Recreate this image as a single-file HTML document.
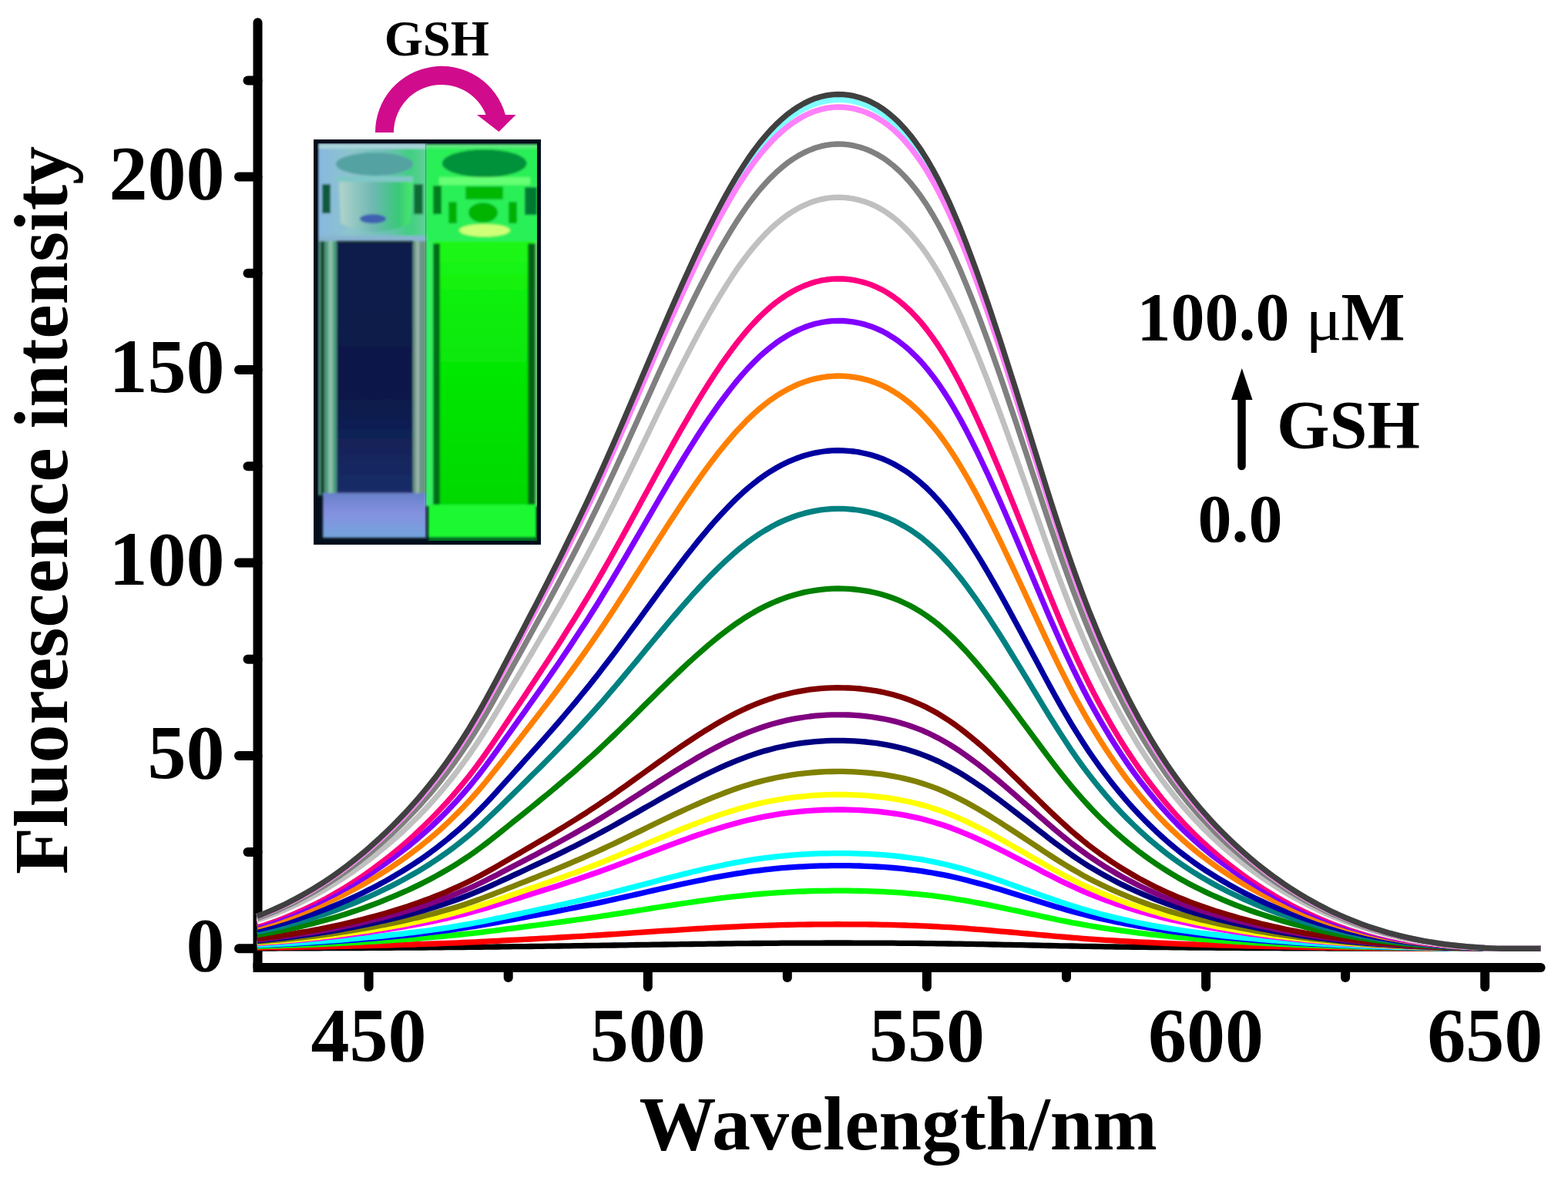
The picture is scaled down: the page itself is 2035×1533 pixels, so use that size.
<!DOCTYPE html><html><head><meta charset="utf-8"><title>Fluorescence spectra</title>
<style>html,body{margin:0;padding:0;background:#fff;}svg{display:block;}text{font-family:"Liberation Serif","Times New Roman",serif;font-weight:bold;fill:#000;}</style></head><body>
<svg width="2035" height="1533" viewBox="0 0 2035 1533">
<rect width="2035" height="1533" fill="#fff"/>
<g stroke="#000" stroke-width="12" fill="none">
<line x1="334.5" y1="29.3" x2="334.5" y2="1256.0" stroke-linecap="round"/>
<line x1="328.5" y1="1256.0" x2="1999.6" y2="1256.0" stroke-linecap="butt"/>
<line x1="1963.4" y1="1256.0" x2="1999.6" y2="1256.0" stroke-linecap="round"/>
<line x1="310.0" y1="1231.3" x2="334.5" y2="1231.3" stroke-linecap="round"/>
<line x1="321.5" y1="1106.1" x2="334.5" y2="1106.1" stroke-linecap="round"/>
<line x1="310.0" y1="980.9" x2="334.5" y2="980.9" stroke-linecap="round"/>
<line x1="321.5" y1="855.7" x2="334.5" y2="855.7" stroke-linecap="round"/>
<line x1="310.0" y1="730.5" x2="334.5" y2="730.5" stroke-linecap="round"/>
<line x1="321.5" y1="605.2" x2="334.5" y2="605.2" stroke-linecap="round"/>
<line x1="310.0" y1="480.0" x2="334.5" y2="480.0" stroke-linecap="round"/>
<line x1="321.5" y1="354.8" x2="334.5" y2="354.8" stroke-linecap="round"/>
<line x1="310.0" y1="229.6" x2="334.5" y2="229.6" stroke-linecap="round"/>
<line x1="321.5" y1="104.4" x2="334.5" y2="104.4" stroke-linecap="round"/>
<line x1="478.6" y1="1256.0" x2="478.6" y2="1281.0" stroke-linecap="round"/>
<line x1="659.7" y1="1256.0" x2="659.7" y2="1269.0" stroke-linecap="round"/>
<line x1="840.8" y1="1256.0" x2="840.8" y2="1281.0" stroke-linecap="round"/>
<line x1="1021.8" y1="1256.0" x2="1021.8" y2="1269.0" stroke-linecap="round"/>
<line x1="1202.9" y1="1256.0" x2="1202.9" y2="1281.0" stroke-linecap="round"/>
<line x1="1384.0" y1="1256.0" x2="1384.0" y2="1269.0" stroke-linecap="round"/>
<line x1="1565.1" y1="1256.0" x2="1565.1" y2="1281.0" stroke-linecap="round"/>
<line x1="1746.1" y1="1256.0" x2="1746.1" y2="1269.0" stroke-linecap="round"/>
<line x1="1927.2" y1="1256.0" x2="1927.2" y2="1281.0" stroke-linecap="round"/>
</g>
<g fill="none" stroke-width="7.3" stroke-linejoin="round">
<path stroke="#000000" d="M333.7,1231.0 L341.0,1231.0 L348.2,1231.0 L355.5,1231.0 L362.7,1230.9 L370.0,1230.9 L377.2,1230.9 L384.4,1230.9 L391.7,1230.8 L398.9,1230.8 L406.2,1230.8 L413.4,1230.8 L420.7,1230.7 L427.9,1230.7 L435.1,1230.7 L442.4,1230.6 L449.6,1230.6 L456.9,1230.6 L464.1,1230.5 L471.4,1230.5 L478.6,1230.4 L485.8,1230.4 L493.1,1230.4 L500.3,1230.3 L507.6,1230.3 L514.8,1230.2 L522.1,1230.2 L529.3,1230.1 L536.5,1230.1 L543.8,1230.0 L551.0,1230.0 L558.3,1229.9 L565.5,1229.8 L572.8,1229.8 L580.0,1229.7 L587.2,1229.6 L594.5,1229.6 L601.7,1229.5 L609.0,1229.4 L616.2,1229.3 L623.5,1229.3 L630.7,1229.2 L637.9,1229.1 L645.2,1229.0 L652.4,1228.9 L659.7,1228.8 L666.9,1228.7 L674.2,1228.6 L681.4,1228.6 L688.6,1228.5 L695.9,1228.4 L703.1,1228.3 L710.4,1228.2 L717.6,1228.1 L724.9,1228.0 L732.1,1227.9 L739.3,1227.8 L746.6,1227.7 L753.8,1227.6 L761.1,1227.5 L768.3,1227.4 L775.6,1227.3 L782.8,1227.2 L790.0,1227.1 L797.3,1227.0 L804.5,1226.9 L811.8,1226.8 L819.0,1226.7 L826.3,1226.5 L833.5,1226.4 L840.8,1226.3 L848.0,1226.2 L855.2,1226.1 L862.5,1226.0 L869.7,1225.9 L877.0,1225.8 L884.2,1225.7 L891.5,1225.6 L898.7,1225.5 L905.9,1225.4 L913.2,1225.3 L920.4,1225.2 L927.7,1225.1 L934.9,1225.0 L942.2,1224.9 L949.4,1224.8 L956.6,1224.7 L963.9,1224.7 L971.1,1224.6 L978.4,1224.5 L985.6,1224.5 L992.9,1224.4 L1000.1,1224.3 L1007.3,1224.3 L1014.6,1224.2 L1021.8,1224.2 L1029.1,1224.2 L1036.3,1224.1 L1043.6,1224.1 L1050.8,1224.1 L1058.0,1224.1 L1065.3,1224.1 L1072.5,1224.0 L1079.8,1224.0 L1087.0,1224.0 L1094.3,1224.0 L1101.5,1224.0 L1108.7,1224.1 L1116.0,1224.1 L1123.2,1224.1 L1130.5,1224.1 L1137.7,1224.1 L1145.0,1224.2 L1152.2,1224.2 L1159.4,1224.2 L1166.7,1224.3 L1173.9,1224.3 L1181.2,1224.4 L1188.4,1224.4 L1195.7,1224.5 L1202.9,1224.6 L1210.1,1224.7 L1217.4,1224.8 L1224.6,1224.9 L1231.9,1225.0 L1239.1,1225.1 L1246.4,1225.2 L1253.6,1225.3 L1260.8,1225.4 L1268.1,1225.6 L1275.3,1225.7 L1282.6,1225.8 L1289.8,1226.0 L1297.1,1226.1 L1304.3,1226.3 L1311.5,1226.4 L1318.8,1226.6 L1326.0,1226.7 L1333.3,1226.9 L1340.5,1227.0 L1347.8,1227.2 L1355.0,1227.3 L1362.2,1227.5 L1369.5,1227.6 L1376.7,1227.8 L1384.0,1227.9 L1391.2,1228.0 L1398.5,1228.2 L1405.7,1228.3 L1412.9,1228.4 L1420.2,1228.5 L1427.4,1228.7 L1434.7,1228.8 L1441.9,1228.9 L1449.2,1229.0 L1456.4,1229.1 L1463.6,1229.2 L1470.9,1229.3 L1478.1,1229.3 L1485.4,1229.4 L1492.6,1229.5 L1499.9,1229.6 L1507.1,1229.7 L1514.3,1229.7 L1521.6,1229.8 L1528.8,1229.9 L1536.1,1229.9 L1543.3,1230.0 L1550.6,1230.1 L1557.8,1230.1 L1565.1,1230.2 L1572.3,1230.2 L1579.5,1230.3 L1586.8,1230.3 L1594.0,1230.4 L1601.3,1230.4 L1608.5,1230.4 L1615.8,1230.5 L1623.0,1230.5 L1630.2,1230.6 L1637.5,1230.6 L1644.7,1230.6 L1652.0,1230.7 L1659.2,1230.7 L1666.5,1230.8 L1673.7,1230.8 L1680.9,1230.8 L1688.2,1230.8 L1695.4,1230.9 L1702.7,1230.9 L1709.9,1230.9 L1717.2,1230.9 L1724.4,1231.0 L1731.6,1231.0 L1738.9,1231.0 L1746.1,1231.0 L1753.4,1231.1 L1760.6,1231.1 L1767.9,1231.1 L1775.1,1231.1 L1782.3,1231.1 L1789.6,1231.1 L1796.8,1231.2 L1804.1,1231.2 L1811.3,1231.2 L1818.6,1231.2 L1825.8,1231.2 L1833.0,1231.2 L1840.3,1231.2 L1847.5,1231.2 L1854.8,1231.2 L1862.0,1231.3 L1869.3,1231.3 L1876.5,1231.3 L1883.7,1231.3 L1891.0,1231.3 L1898.2,1231.3 L1905.5,1231.3 L1912.7,1231.3 L1920.0,1231.3 L1927.2,1231.3 L1934.4,1231.3 L1941.7,1231.3 L1948.9,1231.3 L1956.2,1231.3 L1963.4,1231.3 L1970.7,1231.3 L1977.9,1231.3 L1985.1,1231.3 L1992.4,1231.3 L1999.6,1231.3"/>
<path stroke="#ff0000" d="M333.7,1230.1 L341.0,1230.0 L348.2,1229.9 L355.5,1229.9 L362.7,1229.8 L370.0,1229.7 L377.2,1229.6 L384.4,1229.4 L391.7,1229.3 L398.9,1229.2 L406.2,1229.1 L413.4,1229.0 L420.7,1228.8 L427.9,1228.7 L435.1,1228.6 L442.4,1228.4 L449.6,1228.3 L456.9,1228.1 L464.1,1227.9 L471.4,1227.8 L478.6,1227.6 L485.8,1227.4 L493.1,1227.2 L500.3,1227.0 L507.6,1226.8 L514.8,1226.6 L522.1,1226.4 L529.3,1226.2 L536.5,1226.0 L543.8,1225.7 L551.0,1225.5 L558.3,1225.2 L565.5,1225.0 L572.8,1224.7 L580.0,1224.4 L587.2,1224.1 L594.5,1223.8 L601.7,1223.5 L609.0,1223.2 L616.2,1222.8 L623.5,1222.5 L630.7,1222.1 L637.9,1221.7 L645.2,1221.3 L652.4,1220.9 L659.7,1220.5 L666.9,1220.2 L674.2,1219.8 L681.4,1219.4 L688.6,1219.0 L695.9,1218.6 L703.1,1218.2 L710.4,1217.8 L717.6,1217.4 L724.9,1217.0 L732.1,1216.5 L739.3,1216.1 L746.6,1215.7 L753.8,1215.3 L761.1,1214.8 L768.3,1214.4 L775.6,1214.0 L782.8,1213.5 L790.0,1213.0 L797.3,1212.6 L804.5,1212.1 L811.8,1211.6 L819.0,1211.1 L826.3,1210.7 L833.5,1210.2 L840.8,1209.7 L848.0,1209.2 L855.2,1208.7 L862.5,1208.2 L869.7,1207.8 L877.0,1207.3 L884.2,1206.8 L891.5,1206.4 L898.7,1205.9 L905.9,1205.5 L913.2,1205.1 L920.4,1204.6 L927.7,1204.2 L934.9,1203.8 L942.2,1203.5 L949.4,1203.1 L956.6,1202.8 L963.9,1202.4 L971.1,1202.1 L978.4,1201.8 L985.6,1201.6 L992.9,1201.3 L1000.1,1201.1 L1007.3,1200.9 L1014.6,1200.7 L1021.8,1200.5 L1029.1,1200.3 L1036.3,1200.2 L1043.6,1200.1 L1050.8,1200.0 L1058.0,1199.9 L1065.3,1199.8 L1072.5,1199.8 L1079.8,1199.8 L1087.0,1199.7 L1094.3,1199.8 L1101.5,1199.8 L1108.7,1199.8 L1116.0,1199.9 L1123.2,1199.9 L1130.5,1200.0 L1137.7,1200.1 L1145.0,1200.3 L1152.2,1200.4 L1159.4,1200.6 L1166.7,1200.8 L1173.9,1201.0 L1181.2,1201.3 L1188.4,1201.5 L1195.7,1201.8 L1202.9,1202.1 L1210.1,1202.5 L1217.4,1202.9 L1224.6,1203.3 L1231.9,1203.7 L1239.1,1204.2 L1246.4,1204.7 L1253.6,1205.2 L1260.8,1205.8 L1268.1,1206.3 L1275.3,1206.9 L1282.6,1207.5 L1289.8,1208.1 L1297.1,1208.8 L1304.3,1209.4 L1311.5,1210.0 L1318.8,1210.7 L1326.0,1211.3 L1333.3,1212.0 L1340.5,1212.7 L1347.8,1213.3 L1355.0,1214.0 L1362.2,1214.6 L1369.5,1215.3 L1376.7,1215.9 L1384.0,1216.5 L1391.2,1217.1 L1398.5,1217.7 L1405.7,1218.3 L1412.9,1218.8 L1420.2,1219.3 L1427.4,1219.8 L1434.7,1220.3 L1441.9,1220.7 L1449.2,1221.2 L1456.4,1221.6 L1463.6,1222.0 L1470.9,1222.4 L1478.1,1222.8 L1485.4,1223.2 L1492.6,1223.5 L1499.9,1223.9 L1507.1,1224.2 L1514.3,1224.5 L1521.6,1224.8 L1528.8,1225.1 L1536.1,1225.4 L1543.3,1225.6 L1550.6,1225.9 L1557.8,1226.1 L1565.1,1226.4 L1572.3,1226.6 L1579.5,1226.8 L1586.8,1227.0 L1594.0,1227.2 L1601.3,1227.4 L1608.5,1227.6 L1615.8,1227.8 L1623.0,1228.0 L1630.2,1228.1 L1637.5,1228.3 L1644.7,1228.5 L1652.0,1228.6 L1659.2,1228.8 L1666.5,1228.9 L1673.7,1229.0 L1680.9,1229.2 L1688.2,1229.3 L1695.4,1229.4 L1702.7,1229.6 L1709.9,1229.7 L1717.2,1229.8 L1724.4,1229.9 L1731.6,1230.0 L1738.9,1230.1 L1746.1,1230.2 L1753.4,1230.2 L1760.6,1230.3 L1767.9,1230.4 L1775.1,1230.5 L1782.3,1230.5 L1789.6,1230.6 L1796.8,1230.7 L1804.1,1230.7 L1811.3,1230.8 L1818.6,1230.8 L1825.8,1230.9 L1833.0,1230.9 L1840.3,1231.0 L1847.5,1231.0 L1854.8,1231.1 L1862.0,1231.1 L1869.3,1231.1 L1876.5,1231.1 L1883.7,1231.2 L1891.0,1231.2 L1898.2,1231.2 L1905.5,1231.2 L1912.7,1231.2 L1920.0,1231.3 L1927.2,1231.3 L1934.4,1231.3 L1941.7,1231.3 L1948.9,1231.3 L1956.2,1231.3 L1963.4,1231.3 L1970.7,1231.3 L1977.9,1231.3 L1985.1,1231.3 L1992.4,1231.3 L1999.6,1231.3"/>
<path stroke="#00ff00" d="M333.7,1228.5 L341.0,1228.3 L348.2,1228.1 L355.5,1227.9 L362.7,1227.6 L370.0,1227.4 L377.2,1227.1 L384.4,1226.9 L391.7,1226.6 L398.9,1226.3 L406.2,1226.1 L413.4,1225.8 L420.7,1225.4 L427.9,1225.1 L435.1,1224.8 L442.4,1224.4 L449.6,1224.0 L456.9,1223.7 L464.1,1223.3 L471.4,1222.9 L478.6,1222.4 L485.8,1222.0 L493.1,1221.6 L500.3,1221.1 L507.6,1220.6 L514.8,1220.1 L522.1,1219.6 L529.3,1219.1 L536.5,1218.6 L543.8,1218.0 L551.0,1217.4 L558.3,1216.8 L565.5,1216.2 L572.8,1215.5 L580.0,1214.9 L587.2,1214.2 L594.5,1213.5 L601.7,1212.7 L609.0,1211.9 L616.2,1211.1 L623.5,1210.3 L630.7,1209.4 L637.9,1208.5 L645.2,1207.6 L652.4,1206.6 L659.7,1205.7 L666.9,1204.8 L674.2,1203.8 L681.4,1202.9 L688.6,1201.9 L695.9,1201.0 L703.1,1200.1 L710.4,1199.1 L717.6,1198.1 L724.9,1197.2 L732.1,1196.2 L739.3,1195.2 L746.6,1194.2 L753.8,1193.2 L761.1,1192.1 L768.3,1191.1 L775.6,1190.0 L782.8,1188.9 L790.0,1187.8 L797.3,1186.7 L804.5,1185.6 L811.8,1184.4 L819.0,1183.3 L826.3,1182.2 L833.5,1181.0 L840.8,1179.8 L848.0,1178.7 L855.2,1177.5 L862.5,1176.4 L869.7,1175.3 L877.0,1174.2 L884.2,1173.0 L891.5,1172.0 L898.7,1170.9 L905.9,1169.8 L913.2,1168.8 L920.4,1167.8 L927.7,1166.9 L934.9,1165.9 L942.2,1165.0 L949.4,1164.2 L956.6,1163.3 L963.9,1162.6 L971.1,1161.8 L978.4,1161.1 L985.6,1160.5 L992.9,1159.9 L1000.1,1159.3 L1007.3,1158.8 L1014.6,1158.4 L1021.8,1157.9 L1029.1,1157.6 L1036.3,1157.2 L1043.6,1157.0 L1050.8,1156.7 L1058.0,1156.5 L1065.3,1156.4 L1072.5,1156.3 L1079.8,1156.2 L1087.0,1156.2 L1094.3,1156.2 L1101.5,1156.2 L1108.7,1156.3 L1116.0,1156.5 L1123.2,1156.6 L1130.5,1156.8 L1137.7,1157.1 L1145.0,1157.4 L1152.2,1157.8 L1159.4,1158.2 L1166.7,1158.7 L1173.9,1159.2 L1181.2,1159.8 L1188.4,1160.4 L1195.7,1161.1 L1202.9,1161.9 L1210.1,1162.7 L1217.4,1163.6 L1224.6,1164.6 L1231.9,1165.7 L1239.1,1166.8 L1246.4,1168.0 L1253.6,1169.2 L1260.8,1170.5 L1268.1,1171.8 L1275.3,1173.2 L1282.6,1174.7 L1289.8,1176.1 L1297.1,1177.6 L1304.3,1179.1 L1311.5,1180.7 L1318.8,1182.2 L1326.0,1183.8 L1333.3,1185.4 L1340.5,1186.9 L1347.8,1188.5 L1355.0,1190.1 L1362.2,1191.6 L1369.5,1193.2 L1376.7,1194.7 L1384.0,1196.1 L1391.2,1197.6 L1398.5,1198.9 L1405.7,1200.2 L1412.9,1201.5 L1420.2,1202.7 L1427.4,1203.9 L1434.7,1205.1 L1441.9,1206.2 L1449.2,1207.2 L1456.4,1208.2 L1463.6,1209.2 L1470.9,1210.1 L1478.1,1211.1 L1485.4,1211.9 L1492.6,1212.8 L1499.9,1213.6 L1507.1,1214.3 L1514.3,1215.1 L1521.6,1215.8 L1528.8,1216.5 L1536.1,1217.1 L1543.3,1217.8 L1550.6,1218.4 L1557.8,1219.0 L1565.1,1219.5 L1572.3,1220.1 L1579.5,1220.6 L1586.8,1221.1 L1594.0,1221.6 L1601.3,1222.1 L1608.5,1222.5 L1615.8,1222.9 L1623.0,1223.4 L1630.2,1223.8 L1637.5,1224.2 L1644.7,1224.6 L1652.0,1224.9 L1659.2,1225.3 L1666.5,1225.6 L1673.7,1225.9 L1680.9,1226.3 L1688.2,1226.6 L1695.4,1226.9 L1702.7,1227.1 L1709.9,1227.4 L1717.2,1227.7 L1724.4,1227.9 L1731.6,1228.1 L1738.9,1228.4 L1746.1,1228.6 L1753.4,1228.8 L1760.6,1229.0 L1767.9,1229.2 L1775.1,1229.3 L1782.3,1229.5 L1789.6,1229.7 L1796.8,1229.8 L1804.1,1229.9 L1811.3,1230.1 L1818.6,1230.2 L1825.8,1230.3 L1833.0,1230.4 L1840.3,1230.5 L1847.5,1230.6 L1854.8,1230.7 L1862.0,1230.8 L1869.3,1230.9 L1876.5,1230.9 L1883.7,1231.0 L1891.0,1231.0 L1898.2,1231.1 L1905.5,1231.1 L1912.7,1231.2 L1920.0,1231.2 L1927.2,1231.2 L1934.4,1231.3 L1941.7,1231.3 L1948.9,1231.3 L1956.2,1231.3 L1963.4,1231.3 L1970.7,1231.3 L1977.9,1231.3 L1985.1,1231.3 L1992.4,1231.3 L1999.6,1231.3"/>
<path stroke="#0000ff" d="M333.7,1227.2 L341.0,1226.9 L348.2,1226.7 L355.5,1226.4 L362.7,1226.0 L370.0,1225.7 L377.2,1225.4 L384.4,1225.0 L391.7,1224.6 L398.9,1224.2 L406.2,1223.8 L413.4,1223.3 L420.7,1222.9 L427.9,1222.4 L435.1,1221.9 L442.4,1221.4 L449.6,1220.9 L456.9,1220.4 L464.1,1219.8 L471.4,1219.2 L478.6,1218.6 L485.8,1218.0 L493.1,1217.4 L500.3,1216.7 L507.6,1216.0 L514.8,1215.3 L522.1,1214.6 L529.3,1213.8 L536.5,1213.0 L543.8,1212.2 L551.0,1211.4 L558.3,1210.5 L565.5,1209.7 L572.8,1208.7 L580.0,1207.8 L587.2,1206.8 L594.5,1205.7 L601.7,1204.6 L609.0,1203.5 L616.2,1202.4 L623.5,1201.1 L630.7,1199.9 L637.9,1198.6 L645.2,1197.3 L652.4,1195.9 L659.7,1194.6 L666.9,1193.3 L674.2,1191.9 L681.4,1190.6 L688.6,1189.2 L695.9,1187.9 L703.1,1186.5 L710.4,1185.1 L717.6,1183.8 L724.9,1182.4 L732.1,1181.0 L739.3,1179.5 L746.6,1178.1 L753.8,1176.6 L761.1,1175.1 L768.3,1173.6 L775.6,1172.1 L782.8,1170.6 L790.0,1169.0 L797.3,1167.4 L804.5,1165.8 L811.8,1164.1 L819.0,1162.5 L826.3,1160.9 L833.5,1159.2 L840.8,1157.5 L848.0,1155.9 L855.2,1154.2 L862.5,1152.6 L869.7,1151.0 L877.0,1149.4 L884.2,1147.8 L891.5,1146.2 L898.7,1144.7 L905.9,1143.2 L913.2,1141.8 L920.4,1140.3 L927.7,1138.9 L934.9,1137.6 L942.2,1136.3 L949.4,1135.1 L956.6,1133.9 L963.9,1132.8 L971.1,1131.7 L978.4,1130.7 L985.6,1129.8 L992.9,1128.9 L1000.1,1128.1 L1007.3,1127.4 L1014.6,1126.7 L1021.8,1126.2 L1029.1,1125.6 L1036.3,1125.2 L1043.6,1124.8 L1050.8,1124.4 L1058.0,1124.1 L1065.3,1123.9 L1072.5,1123.8 L1079.8,1123.7 L1087.0,1123.6 L1094.3,1123.6 L1101.5,1123.7 L1108.7,1123.8 L1116.0,1124.0 L1123.2,1124.3 L1130.5,1124.6 L1137.7,1125.0 L1145.0,1125.4 L1152.2,1125.9 L1159.4,1126.5 L1166.7,1127.2 L1173.9,1127.9 L1181.2,1128.8 L1188.4,1129.7 L1195.7,1130.7 L1202.9,1131.8 L1210.1,1133.0 L1217.4,1134.3 L1224.6,1135.7 L1231.9,1137.2 L1239.1,1138.8 L1246.4,1140.5 L1253.6,1142.3 L1260.8,1144.2 L1268.1,1146.1 L1275.3,1148.1 L1282.6,1150.1 L1289.8,1152.2 L1297.1,1154.3 L1304.3,1156.5 L1311.5,1158.7 L1318.8,1161.0 L1326.0,1163.2 L1333.3,1165.5 L1340.5,1167.7 L1347.8,1170.0 L1355.0,1172.2 L1362.2,1174.5 L1369.5,1176.7 L1376.7,1178.8 L1384.0,1180.9 L1391.2,1182.9 L1398.5,1184.9 L1405.7,1186.8 L1412.9,1188.6 L1420.2,1190.4 L1427.4,1192.1 L1434.7,1193.7 L1441.9,1195.3 L1449.2,1196.8 L1456.4,1198.2 L1463.6,1199.6 L1470.9,1201.0 L1478.1,1202.3 L1485.4,1203.5 L1492.6,1204.7 L1499.9,1205.9 L1507.1,1207.0 L1514.3,1208.1 L1521.6,1209.1 L1528.8,1210.1 L1536.1,1211.0 L1543.3,1211.9 L1550.6,1212.8 L1557.8,1213.6 L1565.1,1214.4 L1572.3,1215.2 L1579.5,1216.0 L1586.8,1216.7 L1594.0,1217.4 L1601.3,1218.0 L1608.5,1218.7 L1615.8,1219.3 L1623.0,1219.9 L1630.2,1220.5 L1637.5,1221.1 L1644.7,1221.6 L1652.0,1222.2 L1659.2,1222.7 L1666.5,1223.2 L1673.7,1223.6 L1680.9,1224.1 L1688.2,1224.5 L1695.4,1224.9 L1702.7,1225.3 L1709.9,1225.7 L1717.2,1226.1 L1724.4,1226.4 L1731.6,1226.8 L1738.9,1227.1 L1746.1,1227.4 L1753.4,1227.7 L1760.6,1228.0 L1767.9,1228.2 L1775.1,1228.5 L1782.3,1228.7 L1789.6,1229.0 L1796.8,1229.2 L1804.1,1229.4 L1811.3,1229.6 L1818.6,1229.7 L1825.8,1229.9 L1833.0,1230.0 L1840.3,1230.2 L1847.5,1230.3 L1854.8,1230.4 L1862.0,1230.6 L1869.3,1230.7 L1876.5,1230.8 L1883.7,1230.9 L1891.0,1230.9 L1898.2,1231.0 L1905.5,1231.1 L1912.7,1231.1 L1920.0,1231.2 L1927.2,1231.2 L1934.4,1231.3 L1941.7,1231.3 L1948.9,1231.3 L1956.2,1231.3 L1963.4,1231.3 L1970.7,1231.3 L1977.9,1231.3 L1985.1,1231.3 L1992.4,1231.3 L1999.6,1231.3"/>
<path stroke="#00ffff" d="M333.7,1226.6 L341.0,1226.3 L348.2,1226.0 L355.5,1225.6 L362.7,1225.3 L370.0,1224.9 L377.2,1224.5 L384.4,1224.0 L391.7,1223.6 L398.9,1223.1 L406.2,1222.7 L413.4,1222.2 L420.7,1221.6 L427.9,1221.1 L435.1,1220.5 L442.4,1220.0 L449.6,1219.4 L456.9,1218.7 L464.1,1218.1 L471.4,1217.4 L478.6,1216.7 L485.8,1216.0 L493.1,1215.3 L500.3,1214.5 L507.6,1213.7 L514.8,1212.9 L522.1,1212.1 L529.3,1211.2 L536.5,1210.3 L543.8,1209.4 L551.0,1208.5 L558.3,1207.5 L565.5,1206.4 L572.8,1205.4 L580.0,1204.3 L587.2,1203.1 L594.5,1201.9 L601.7,1200.7 L609.0,1199.4 L616.2,1198.0 L623.5,1196.7 L630.7,1195.2 L637.9,1193.7 L645.2,1192.2 L652.4,1190.7 L659.7,1189.1 L666.9,1187.6 L674.2,1186.1 L681.4,1184.5 L688.6,1183.0 L695.9,1181.4 L703.1,1179.8 L710.4,1178.3 L717.6,1176.7 L724.9,1175.1 L732.1,1173.5 L739.3,1171.8 L746.6,1170.2 L753.8,1168.5 L761.1,1166.8 L768.3,1165.1 L775.6,1163.3 L782.8,1161.5 L790.0,1159.7 L797.3,1157.9 L804.5,1156.0 L811.8,1154.1 L819.0,1152.3 L826.3,1150.4 L833.5,1148.5 L840.8,1146.6 L848.0,1144.7 L855.2,1142.8 L862.5,1140.9 L869.7,1139.0 L877.0,1137.2 L884.2,1135.4 L891.5,1133.6 L898.7,1131.8 L905.9,1130.1 L913.2,1128.4 L920.4,1126.8 L927.7,1125.2 L934.9,1123.7 L942.2,1122.2 L949.4,1120.7 L956.6,1119.4 L963.9,1118.1 L971.1,1116.9 L978.4,1115.7 L985.6,1114.7 L992.9,1113.7 L1000.1,1112.8 L1007.3,1111.9 L1014.6,1111.2 L1021.8,1110.5 L1029.1,1109.9 L1036.3,1109.4 L1043.6,1108.9 L1050.8,1108.5 L1058.0,1108.2 L1065.3,1107.9 L1072.5,1107.8 L1079.8,1107.6 L1087.0,1107.6 L1094.3,1107.6 L1101.5,1107.7 L1108.7,1107.8 L1116.0,1108.1 L1123.2,1108.3 L1130.5,1108.7 L1137.7,1109.1 L1145.0,1109.6 L1152.2,1110.2 L1159.4,1110.9 L1166.7,1111.7 L1173.9,1112.5 L1181.2,1113.5 L1188.4,1114.6 L1195.7,1115.7 L1202.9,1117.0 L1210.1,1118.4 L1217.4,1119.9 L1224.6,1121.5 L1231.9,1123.2 L1239.1,1125.1 L1246.4,1127.0 L1253.6,1129.1 L1260.8,1131.2 L1268.1,1133.4 L1275.3,1135.7 L1282.6,1138.0 L1289.8,1140.4 L1297.1,1142.9 L1304.3,1145.4 L1311.5,1147.9 L1318.8,1150.5 L1326.0,1153.1 L1333.3,1155.7 L1340.5,1158.3 L1347.8,1160.9 L1355.0,1163.4 L1362.2,1166.0 L1369.5,1168.5 L1376.7,1171.0 L1384.0,1173.4 L1391.2,1175.7 L1398.5,1178.0 L1405.7,1180.2 L1412.9,1182.3 L1420.2,1184.3 L1427.4,1186.2 L1434.7,1188.1 L1441.9,1189.9 L1449.2,1191.6 L1456.4,1193.3 L1463.6,1194.9 L1470.9,1196.5 L1478.1,1198.0 L1485.4,1199.4 L1492.6,1200.8 L1499.9,1202.1 L1507.1,1203.4 L1514.3,1204.6 L1521.6,1205.8 L1528.8,1206.9 L1536.1,1208.0 L1543.3,1209.0 L1550.6,1210.0 L1557.8,1211.0 L1565.1,1211.9 L1572.3,1212.8 L1579.5,1213.7 L1586.8,1214.5 L1594.0,1215.3 L1601.3,1216.1 L1608.5,1216.8 L1615.8,1217.5 L1623.0,1218.2 L1630.2,1218.9 L1637.5,1219.6 L1644.7,1220.2 L1652.0,1220.8 L1659.2,1221.4 L1666.5,1221.9 L1673.7,1222.5 L1680.9,1223.0 L1688.2,1223.5 L1695.4,1224.0 L1702.7,1224.4 L1709.9,1224.9 L1717.2,1225.3 L1724.4,1225.7 L1731.6,1226.1 L1738.9,1226.5 L1746.1,1226.8 L1753.4,1227.2 L1760.6,1227.5 L1767.9,1227.8 L1775.1,1228.1 L1782.3,1228.3 L1789.6,1228.6 L1796.8,1228.8 L1804.1,1229.1 L1811.3,1229.3 L1818.6,1229.5 L1825.8,1229.7 L1833.0,1229.9 L1840.3,1230.0 L1847.5,1230.2 L1854.8,1230.3 L1862.0,1230.5 L1869.3,1230.6 L1876.5,1230.7 L1883.7,1230.8 L1891.0,1230.9 L1898.2,1231.0 L1905.5,1231.0 L1912.7,1231.1 L1920.0,1231.2 L1927.2,1231.2 L1934.4,1231.2 L1941.7,1231.3 L1948.9,1231.3 L1956.2,1231.3 L1963.4,1231.3 L1970.7,1231.3 L1977.9,1231.3 L1985.1,1231.3 L1992.4,1231.3 L1999.6,1231.3"/>
<path stroke="#ff00ff" d="M333.7,1224.5 L341.0,1224.0 L348.2,1223.5 L355.5,1223.0 L362.7,1222.5 L370.0,1221.9 L377.2,1221.3 L384.4,1220.7 L391.7,1220.1 L398.9,1219.4 L406.2,1218.7 L413.4,1218.0 L420.7,1217.2 L427.9,1216.4 L435.1,1215.6 L442.4,1214.8 L449.6,1213.9 L456.9,1213.0 L464.1,1212.0 L471.4,1211.1 L478.6,1210.1 L485.8,1209.0 L493.1,1207.9 L500.3,1206.8 L507.6,1205.7 L514.8,1204.5 L522.1,1203.3 L529.3,1202.0 L536.5,1200.7 L543.8,1199.4 L551.0,1198.0 L558.3,1196.6 L565.5,1195.1 L572.8,1193.5 L580.0,1191.9 L587.2,1190.2 L594.5,1188.5 L601.7,1186.7 L609.0,1184.8 L616.2,1182.8 L623.5,1180.8 L630.7,1178.7 L637.9,1176.5 L645.2,1174.3 L652.4,1172.1 L659.7,1169.8 L666.9,1167.6 L674.2,1165.4 L681.4,1163.1 L688.6,1160.8 L695.9,1158.6 L703.1,1156.3 L710.4,1154.0 L717.6,1151.7 L724.9,1149.4 L732.1,1147.0 L739.3,1144.6 L746.6,1142.2 L753.8,1139.8 L761.1,1137.3 L768.3,1134.8 L775.6,1132.2 L782.8,1129.6 L790.0,1127.0 L797.3,1124.3 L804.5,1121.6 L811.8,1118.9 L819.0,1116.1 L826.3,1113.3 L833.5,1110.6 L840.8,1107.8 L848.0,1105.0 L855.2,1102.3 L862.5,1099.5 L869.7,1096.8 L877.0,1094.1 L884.2,1091.5 L891.5,1088.9 L898.7,1086.3 L905.9,1083.8 L913.2,1081.4 L920.4,1079.0 L927.7,1076.6 L934.9,1074.4 L942.2,1072.2 L949.4,1070.2 L956.6,1068.2 L963.9,1066.3 L971.1,1064.5 L978.4,1062.9 L985.6,1061.3 L992.9,1059.9 L1000.1,1058.6 L1007.3,1057.3 L1014.6,1056.2 L1021.8,1055.2 L1029.1,1054.4 L1036.3,1053.6 L1043.6,1052.9 L1050.8,1052.3 L1058.0,1051.9 L1065.3,1051.5 L1072.5,1051.2 L1079.8,1051.1 L1087.0,1051.0 L1094.3,1051.0 L1101.5,1051.1 L1108.7,1051.4 L1116.0,1051.7 L1123.2,1052.1 L1130.5,1052.6 L1137.7,1053.2 L1145.0,1054.0 L1152.2,1054.8 L1159.4,1055.8 L1166.7,1056.9 L1173.9,1058.2 L1181.2,1059.6 L1188.4,1061.1 L1195.7,1062.8 L1202.9,1064.7 L1210.1,1066.7 L1217.4,1068.9 L1224.6,1071.2 L1231.9,1073.8 L1239.1,1076.5 L1246.4,1079.3 L1253.6,1082.3 L1260.8,1085.4 L1268.1,1088.6 L1275.3,1091.9 L1282.6,1095.4 L1289.8,1098.9 L1297.1,1102.4 L1304.3,1106.1 L1311.5,1109.8 L1318.8,1113.5 L1326.0,1117.3 L1333.3,1121.1 L1340.5,1124.8 L1347.8,1128.6 L1355.0,1132.4 L1362.2,1136.1 L1369.5,1139.8 L1376.7,1143.4 L1384.0,1146.9 L1391.2,1150.3 L1398.5,1153.6 L1405.7,1156.8 L1412.9,1159.8 L1420.2,1162.8 L1427.4,1165.6 L1434.7,1168.3 L1441.9,1170.9 L1449.2,1173.5 L1456.4,1175.9 L1463.6,1178.3 L1470.9,1180.5 L1478.1,1182.7 L1485.4,1184.8 L1492.6,1186.8 L1499.9,1188.7 L1507.1,1190.6 L1514.3,1192.4 L1521.6,1194.1 L1528.8,1195.7 L1536.1,1197.3 L1543.3,1198.8 L1550.6,1200.3 L1557.8,1201.7 L1565.1,1203.1 L1572.3,1204.4 L1579.5,1205.6 L1586.8,1206.8 L1594.0,1208.0 L1601.3,1209.1 L1608.5,1210.2 L1615.8,1211.2 L1623.0,1212.3 L1630.2,1213.2 L1637.5,1214.2 L1644.7,1215.1 L1652.0,1216.0 L1659.2,1216.8 L1666.5,1217.7 L1673.7,1218.4 L1680.9,1219.2 L1688.2,1219.9 L1695.4,1220.6 L1702.7,1221.3 L1709.9,1221.9 L1717.2,1222.6 L1724.4,1223.2 L1731.6,1223.7 L1738.9,1224.3 L1746.1,1224.8 L1753.4,1225.3 L1760.6,1225.7 L1767.9,1226.2 L1775.1,1226.6 L1782.3,1227.0 L1789.6,1227.4 L1796.8,1227.7 L1804.1,1228.1 L1811.3,1228.4 L1818.6,1228.7 L1825.8,1228.9 L1833.0,1229.2 L1840.3,1229.4 L1847.5,1229.7 L1854.8,1229.9 L1862.0,1230.1 L1869.3,1230.2 L1876.5,1230.4 L1883.7,1230.6 L1891.0,1230.7 L1898.2,1230.8 L1905.5,1230.9 L1912.7,1231.0 L1920.0,1231.1 L1927.2,1231.2 L1934.4,1231.2 L1941.7,1231.3 L1948.9,1231.3 L1956.2,1231.3 L1963.4,1231.3 L1970.7,1231.3 L1977.9,1231.3 L1985.1,1231.3 L1992.4,1231.3 L1999.6,1231.3"/>
<path stroke="#ffff00" d="M333.7,1223.7 L341.0,1223.2 L348.2,1222.7 L355.5,1222.1 L362.7,1221.5 L370.0,1220.9 L377.2,1220.3 L384.4,1219.6 L391.7,1218.9 L398.9,1218.1 L406.2,1217.3 L413.4,1216.5 L420.7,1215.7 L427.9,1214.8 L435.1,1213.9 L442.4,1213.0 L449.6,1212.0 L456.9,1211.0 L464.1,1210.0 L471.4,1208.9 L478.6,1207.8 L485.8,1206.6 L493.1,1205.4 L500.3,1204.2 L507.6,1202.9 L514.8,1201.6 L522.1,1200.3 L529.3,1198.9 L536.5,1197.4 L543.8,1195.9 L551.0,1194.4 L558.3,1192.8 L565.5,1191.1 L572.8,1189.4 L580.0,1187.6 L587.2,1185.8 L594.5,1183.8 L601.7,1181.8 L609.0,1179.7 L616.2,1177.6 L623.5,1175.3 L630.7,1173.0 L637.9,1170.6 L645.2,1168.2 L652.4,1165.7 L659.7,1163.2 L666.9,1160.7 L674.2,1158.2 L681.4,1155.7 L688.6,1153.2 L695.9,1150.7 L703.1,1148.2 L710.4,1145.6 L717.6,1143.1 L724.9,1140.5 L732.1,1137.9 L739.3,1135.2 L746.6,1132.6 L753.8,1129.8 L761.1,1127.1 L768.3,1124.3 L775.6,1121.5 L782.8,1118.6 L790.0,1115.7 L797.3,1112.7 L804.5,1109.7 L811.8,1106.7 L819.0,1103.6 L826.3,1100.6 L833.5,1097.5 L840.8,1094.4 L848.0,1091.4 L855.2,1088.3 L862.5,1085.3 L869.7,1082.3 L877.0,1079.3 L884.2,1076.4 L891.5,1073.5 L898.7,1070.6 L905.9,1067.8 L913.2,1065.1 L920.4,1062.5 L927.7,1059.9 L934.9,1057.4 L942.2,1055.0 L949.4,1052.7 L956.6,1050.5 L963.9,1048.4 L971.1,1046.5 L978.4,1044.6 L985.6,1042.9 L992.9,1041.3 L1000.1,1039.8 L1007.3,1038.5 L1014.6,1037.3 L1021.8,1036.2 L1029.1,1035.2 L1036.3,1034.3 L1043.6,1033.6 L1050.8,1032.9 L1058.0,1032.4 L1065.3,1032.0 L1072.5,1031.7 L1079.8,1031.5 L1087.0,1031.5 L1094.3,1031.5 L1101.5,1031.6 L1108.7,1031.9 L1116.0,1032.2 L1123.2,1032.7 L1130.5,1033.3 L1137.7,1034.0 L1145.0,1034.8 L1152.2,1035.7 L1159.4,1036.8 L1166.7,1038.1 L1173.9,1039.5 L1181.2,1041.0 L1188.4,1042.7 L1195.7,1044.6 L1202.9,1046.6 L1210.1,1048.9 L1217.4,1051.3 L1224.6,1053.9 L1231.9,1056.7 L1239.1,1059.7 L1246.4,1062.8 L1253.6,1066.1 L1260.8,1069.6 L1268.1,1073.2 L1275.3,1076.8 L1282.6,1080.6 L1289.8,1084.5 L1297.1,1088.5 L1304.3,1092.5 L1311.5,1096.6 L1318.8,1100.8 L1326.0,1104.9 L1333.3,1109.1 L1340.5,1113.3 L1347.8,1117.5 L1355.0,1121.7 L1362.2,1125.8 L1369.5,1129.9 L1376.7,1133.9 L1384.0,1137.8 L1391.2,1141.5 L1398.5,1145.2 L1405.7,1148.7 L1412.9,1152.1 L1420.2,1155.3 L1427.4,1158.5 L1434.7,1161.5 L1441.9,1164.4 L1449.2,1167.2 L1456.4,1169.9 L1463.6,1172.5 L1470.9,1175.0 L1478.1,1177.4 L1485.4,1179.8 L1492.6,1182.0 L1499.9,1184.1 L1507.1,1186.2 L1514.3,1188.2 L1521.6,1190.1 L1528.8,1191.9 L1536.1,1193.6 L1543.3,1195.3 L1550.6,1197.0 L1557.8,1198.5 L1565.1,1200.0 L1572.3,1201.5 L1579.5,1202.8 L1586.8,1204.2 L1594.0,1205.5 L1601.3,1206.7 L1608.5,1207.9 L1615.8,1209.1 L1623.0,1210.2 L1630.2,1211.3 L1637.5,1212.3 L1644.7,1213.3 L1652.0,1214.3 L1659.2,1215.3 L1666.5,1216.2 L1673.7,1217.0 L1680.9,1217.9 L1688.2,1218.7 L1695.4,1219.5 L1702.7,1220.2 L1709.9,1220.9 L1717.2,1221.6 L1724.4,1222.3 L1731.6,1222.9 L1738.9,1223.5 L1746.1,1224.1 L1753.4,1224.6 L1760.6,1225.1 L1767.9,1225.6 L1775.1,1226.1 L1782.3,1226.5 L1789.6,1226.9 L1796.8,1227.3 L1804.1,1227.7 L1811.3,1228.1 L1818.6,1228.4 L1825.8,1228.7 L1833.0,1229.0 L1840.3,1229.2 L1847.5,1229.5 L1854.8,1229.7 L1862.0,1229.9 L1869.3,1230.1 L1876.5,1230.3 L1883.7,1230.5 L1891.0,1230.6 L1898.2,1230.7 L1905.5,1230.9 L1912.7,1231.0 L1920.0,1231.1 L1927.2,1231.1 L1934.4,1231.2 L1941.7,1231.3 L1948.9,1231.3 L1956.2,1231.3 L1963.4,1231.3 L1970.7,1231.3 L1977.9,1231.3 L1985.1,1231.3 L1992.4,1231.3 L1999.6,1231.3"/>
<path stroke="#808000" d="M333.7,1222.6 L341.0,1222.0 L348.2,1221.4 L355.5,1220.7 L362.7,1220.1 L370.0,1219.3 L377.2,1218.6 L384.4,1217.8 L391.7,1217.0 L398.9,1216.1 L406.2,1215.3 L413.4,1214.3 L420.7,1213.4 L427.9,1212.4 L435.1,1211.3 L442.4,1210.2 L449.6,1209.1 L456.9,1207.9 L464.1,1206.7 L471.4,1205.5 L478.6,1204.2 L485.8,1202.9 L493.1,1201.5 L500.3,1200.1 L507.6,1198.7 L514.8,1197.1 L522.1,1195.6 L529.3,1194.0 L536.5,1192.3 L543.8,1190.6 L551.0,1188.8 L558.3,1187.0 L565.5,1185.1 L572.8,1183.1 L580.0,1181.0 L587.2,1178.9 L594.5,1176.7 L601.7,1174.4 L609.0,1172.0 L616.2,1169.5 L623.5,1166.9 L630.7,1164.2 L637.9,1161.5 L645.2,1158.7 L652.4,1155.8 L659.7,1152.9 L666.9,1150.1 L674.2,1147.2 L681.4,1144.3 L688.6,1141.5 L695.9,1138.6 L703.1,1135.7 L710.4,1132.8 L717.6,1129.8 L724.9,1126.8 L732.1,1123.8 L739.3,1120.8 L746.6,1117.7 L753.8,1114.6 L761.1,1111.4 L768.3,1108.2 L775.6,1105.0 L782.8,1101.6 L790.0,1098.3 L797.3,1094.9 L804.5,1091.4 L811.8,1087.9 L819.0,1084.4 L826.3,1080.9 L833.5,1077.4 L840.8,1073.8 L848.0,1070.3 L855.2,1066.8 L862.5,1063.3 L869.7,1059.9 L877.0,1056.4 L884.2,1053.1 L891.5,1049.7 L898.7,1046.5 L905.9,1043.3 L913.2,1040.1 L920.4,1037.1 L927.7,1034.1 L934.9,1031.3 L942.2,1028.5 L949.4,1025.9 L956.6,1023.3 L963.9,1020.9 L971.1,1018.7 L978.4,1016.5 L985.6,1014.6 L992.9,1012.7 L1000.1,1011.1 L1007.3,1009.5 L1014.6,1008.1 L1021.8,1006.8 L1029.1,1005.7 L1036.3,1004.7 L1043.6,1003.8 L1050.8,1003.1 L1058.0,1002.5 L1065.3,1002.0 L1072.5,1001.7 L1079.8,1001.5 L1087.0,1001.4 L1094.3,1001.4 L1101.5,1001.6 L1108.7,1001.9 L1116.0,1002.3 L1123.2,1002.8 L1130.5,1003.5 L1137.7,1004.3 L1145.0,1005.2 L1152.2,1006.3 L1159.4,1007.6 L1166.7,1009.0 L1173.9,1010.6 L1181.2,1012.4 L1188.4,1014.3 L1195.7,1016.5 L1202.9,1018.9 L1210.1,1021.4 L1217.4,1024.2 L1224.6,1027.2 L1231.9,1030.5 L1239.1,1033.9 L1246.4,1037.5 L1253.6,1041.3 L1260.8,1045.3 L1268.1,1049.4 L1275.3,1053.6 L1282.6,1058.0 L1289.8,1062.5 L1297.1,1067.0 L1304.3,1071.7 L1311.5,1076.4 L1318.8,1081.1 L1326.0,1085.9 L1333.3,1090.7 L1340.5,1095.6 L1347.8,1100.4 L1355.0,1105.2 L1362.2,1109.9 L1369.5,1114.6 L1376.7,1119.2 L1384.0,1123.7 L1391.2,1128.0 L1398.5,1132.2 L1405.7,1136.3 L1412.9,1140.2 L1420.2,1143.9 L1427.4,1147.5 L1434.7,1151.0 L1441.9,1154.4 L1449.2,1157.6 L1456.4,1160.7 L1463.6,1163.7 L1470.9,1166.6 L1478.1,1169.3 L1485.4,1172.0 L1492.6,1174.6 L1499.9,1177.0 L1507.1,1179.4 L1514.3,1181.7 L1521.6,1183.9 L1528.8,1186.0 L1536.1,1188.0 L1543.3,1189.9 L1550.6,1191.8 L1557.8,1193.6 L1565.1,1195.3 L1572.3,1197.0 L1579.5,1198.6 L1586.8,1200.1 L1594.0,1201.6 L1601.3,1203.0 L1608.5,1204.4 L1615.8,1205.7 L1623.0,1207.0 L1630.2,1208.3 L1637.5,1209.5 L1644.7,1210.6 L1652.0,1211.8 L1659.2,1212.9 L1666.5,1213.9 L1673.7,1214.9 L1680.9,1215.9 L1688.2,1216.8 L1695.4,1217.7 L1702.7,1218.6 L1709.9,1219.4 L1717.2,1220.2 L1724.4,1220.9 L1731.6,1221.6 L1738.9,1222.3 L1746.1,1223.0 L1753.4,1223.6 L1760.6,1224.2 L1767.9,1224.8 L1775.1,1225.3 L1782.3,1225.8 L1789.6,1226.3 L1796.8,1226.7 L1804.1,1227.2 L1811.3,1227.6 L1818.6,1227.9 L1825.8,1228.3 L1833.0,1228.6 L1840.3,1228.9 L1847.5,1229.2 L1854.8,1229.5 L1862.0,1229.7 L1869.3,1230.0 L1876.5,1230.2 L1883.7,1230.3 L1891.0,1230.5 L1898.2,1230.7 L1905.5,1230.8 L1912.7,1230.9 L1920.0,1231.0 L1927.2,1231.1 L1934.4,1231.2 L1941.7,1231.3 L1948.9,1231.3 L1956.2,1231.3 L1963.4,1231.3 L1970.7,1231.3 L1977.9,1231.3 L1985.1,1231.3 L1992.4,1231.3 L1999.6,1231.3"/>
<path stroke="#000080" d="M333.7,1221.1 L341.0,1220.4 L348.2,1219.7 L355.5,1218.9 L362.7,1218.1 L370.0,1217.3 L377.2,1216.4 L384.4,1215.5 L391.7,1214.5 L398.9,1213.5 L406.2,1212.5 L413.4,1211.4 L420.7,1210.2 L427.9,1209.1 L435.1,1207.8 L442.4,1206.6 L449.6,1205.2 L456.9,1203.9 L464.1,1202.5 L471.4,1201.0 L478.6,1199.5 L485.8,1197.9 L493.1,1196.3 L500.3,1194.7 L507.6,1193.0 L514.8,1191.2 L522.1,1189.4 L529.3,1187.5 L536.5,1185.5 L543.8,1183.5 L551.0,1181.4 L558.3,1179.3 L565.5,1177.0 L572.8,1174.7 L580.0,1172.3 L587.2,1169.8 L594.5,1167.2 L601.7,1164.5 L609.0,1161.6 L616.2,1158.7 L623.5,1155.7 L630.7,1152.5 L637.9,1149.3 L645.2,1146.0 L652.4,1142.6 L659.7,1139.3 L666.9,1135.9 L674.2,1132.6 L681.4,1129.2 L688.6,1125.8 L695.9,1122.4 L703.1,1119.0 L710.4,1115.6 L717.6,1112.1 L724.9,1108.6 L732.1,1105.1 L739.3,1101.5 L746.6,1097.9 L753.8,1094.2 L761.1,1090.5 L768.3,1086.8 L775.6,1082.9 L782.8,1079.0 L790.0,1075.1 L797.3,1071.1 L804.5,1067.0 L811.8,1062.9 L819.0,1058.8 L826.3,1054.7 L833.5,1050.5 L840.8,1046.4 L848.0,1042.3 L855.2,1038.1 L862.5,1034.0 L869.7,1030.0 L877.0,1026.0 L884.2,1022.0 L891.5,1018.1 L898.7,1014.2 L905.9,1010.5 L913.2,1006.8 L920.4,1003.2 L927.7,999.8 L934.9,996.4 L942.2,993.2 L949.4,990.1 L956.6,987.1 L963.9,984.3 L971.1,981.6 L978.4,979.1 L985.6,976.8 L992.9,974.6 L1000.1,972.7 L1007.3,970.8 L1014.6,969.2 L1021.8,967.7 L1029.1,966.4 L1036.3,965.2 L1043.6,964.2 L1050.8,963.3 L1058.0,962.6 L1065.3,962.1 L1072.5,961.7 L1079.8,961.4 L1087.0,961.3 L1094.3,961.4 L1101.5,961.6 L1108.7,961.9 L1116.0,962.4 L1123.2,963.0 L1130.5,963.8 L1137.7,964.7 L1145.0,965.8 L1152.2,967.1 L1159.4,968.6 L1166.7,970.3 L1173.9,972.1 L1181.2,974.2 L1188.4,976.5 L1195.7,979.1 L1202.9,981.8 L1210.1,984.9 L1217.4,988.1 L1224.6,991.7 L1231.9,995.5 L1239.1,999.5 L1246.4,1003.7 L1253.6,1008.2 L1260.8,1012.8 L1268.1,1017.7 L1275.3,1022.6 L1282.6,1027.8 L1289.8,1033.0 L1297.1,1038.4 L1304.3,1043.8 L1311.5,1049.4 L1318.8,1055.0 L1326.0,1060.6 L1333.3,1066.2 L1340.5,1071.9 L1347.8,1077.6 L1355.0,1083.2 L1362.2,1088.8 L1369.5,1094.3 L1376.7,1099.7 L1384.0,1105.0 L1391.2,1110.1 L1398.5,1115.0 L1405.7,1119.7 L1412.9,1124.3 L1420.2,1128.7 L1427.4,1132.9 L1434.7,1137.0 L1441.9,1140.9 L1449.2,1144.7 L1456.4,1148.4 L1463.6,1151.9 L1470.9,1155.3 L1478.1,1158.5 L1485.4,1161.7 L1492.6,1164.7 L1499.9,1167.6 L1507.1,1170.4 L1514.3,1173.0 L1521.6,1175.6 L1528.8,1178.1 L1536.1,1180.4 L1543.3,1182.7 L1550.6,1184.9 L1557.8,1187.0 L1565.1,1189.0 L1572.3,1191.0 L1579.5,1192.9 L1586.8,1194.7 L1594.0,1196.4 L1601.3,1198.1 L1608.5,1199.7 L1615.8,1201.3 L1623.0,1202.8 L1630.2,1204.3 L1637.5,1205.7 L1644.7,1207.0 L1652.0,1208.4 L1659.2,1209.6 L1666.5,1210.9 L1673.7,1212.0 L1680.9,1213.2 L1688.2,1214.3 L1695.4,1215.3 L1702.7,1216.3 L1709.9,1217.3 L1717.2,1218.2 L1724.4,1219.1 L1731.6,1220.0 L1738.9,1220.8 L1746.1,1221.5 L1753.4,1222.3 L1760.6,1223.0 L1767.9,1223.6 L1775.1,1224.3 L1782.3,1224.8 L1789.6,1225.4 L1796.8,1225.9 L1804.1,1226.4 L1811.3,1226.9 L1818.6,1227.4 L1825.8,1227.8 L1833.0,1228.2 L1840.3,1228.5 L1847.5,1228.9 L1854.8,1229.2 L1862.0,1229.5 L1869.3,1229.7 L1876.5,1230.0 L1883.7,1230.2 L1891.0,1230.4 L1898.2,1230.6 L1905.5,1230.7 L1912.7,1230.9 L1920.0,1231.0 L1927.2,1231.1 L1934.4,1231.2 L1941.7,1231.3 L1948.9,1231.3 L1956.2,1231.3 L1963.4,1231.3 L1970.7,1231.3 L1977.9,1231.3 L1985.1,1231.3 L1992.4,1231.3 L1999.6,1231.3"/>
<path stroke="#800080" d="M333.7,1219.8 L341.0,1219.0 L348.2,1218.2 L355.5,1217.4 L362.7,1216.5 L370.0,1215.5 L377.2,1214.5 L384.4,1213.5 L391.7,1212.4 L398.9,1211.3 L406.2,1210.1 L413.4,1208.9 L420.7,1207.6 L427.9,1206.3 L435.1,1204.9 L442.4,1203.5 L449.6,1202.0 L456.9,1200.5 L464.1,1198.9 L471.4,1197.2 L478.6,1195.5 L485.8,1193.8 L493.1,1192.0 L500.3,1190.1 L507.6,1188.2 L514.8,1186.2 L522.1,1184.2 L529.3,1182.0 L536.5,1179.9 L543.8,1177.6 L551.0,1175.2 L558.3,1172.8 L565.5,1170.3 L572.8,1167.7 L580.0,1165.0 L587.2,1162.1 L594.5,1159.2 L601.7,1156.2 L609.0,1153.0 L616.2,1149.7 L623.5,1146.3 L630.7,1142.8 L637.9,1139.1 L645.2,1135.4 L652.4,1131.6 L659.7,1127.8 L666.9,1124.1 L674.2,1120.3 L681.4,1116.5 L688.6,1112.7 L695.9,1108.9 L703.1,1105.1 L710.4,1101.2 L717.6,1097.3 L724.9,1093.4 L732.1,1089.4 L739.3,1085.4 L746.6,1081.3 L753.8,1077.2 L761.1,1073.0 L768.3,1068.8 L775.6,1064.5 L782.8,1060.1 L790.0,1055.7 L797.3,1051.2 L804.5,1046.6 L811.8,1042.0 L819.0,1037.4 L826.3,1032.7 L833.5,1028.1 L840.8,1023.4 L848.0,1018.8 L855.2,1014.1 L862.5,1009.5 L869.7,1005.0 L877.0,1000.4 L884.2,996.0 L891.5,991.6 L898.7,987.3 L905.9,983.0 L913.2,978.9 L920.4,974.9 L927.7,971.0 L934.9,967.2 L942.2,963.6 L949.4,960.1 L956.6,956.7 L963.9,953.6 L971.1,950.6 L978.4,947.8 L985.6,945.2 L992.9,942.7 L1000.1,940.5 L1007.3,938.5 L1014.6,936.6 L1021.8,934.9 L1029.1,933.4 L1036.3,932.1 L1043.6,931.0 L1050.8,930.0 L1058.0,929.2 L1065.3,928.6 L1072.5,928.2 L1079.8,927.9 L1087.0,927.8 L1094.3,927.8 L1101.5,928.0 L1108.7,928.4 L1116.0,928.9 L1123.2,929.6 L1130.5,930.5 L1137.7,931.6 L1145.0,932.8 L1152.2,934.3 L1159.4,935.9 L1166.7,937.8 L1173.9,939.9 L1181.2,942.3 L1188.4,944.9 L1195.7,947.7 L1202.9,950.8 L1210.1,954.2 L1217.4,957.9 L1224.6,961.9 L1231.9,966.1 L1239.1,970.7 L1246.4,975.4 L1253.6,980.5 L1260.8,985.7 L1268.1,991.1 L1275.3,996.7 L1282.6,1002.5 L1289.8,1008.4 L1297.1,1014.4 L1304.3,1020.5 L1311.5,1026.7 L1318.8,1033.0 L1326.0,1039.4 L1333.3,1045.7 L1340.5,1052.1 L1347.8,1058.5 L1355.0,1064.8 L1362.2,1071.1 L1369.5,1077.3 L1376.7,1083.3 L1384.0,1089.2 L1391.2,1095.0 L1398.5,1100.5 L1405.7,1105.8 L1412.9,1111.0 L1420.2,1115.9 L1427.4,1120.7 L1434.7,1125.3 L1441.9,1129.7 L1449.2,1134.0 L1456.4,1138.1 L1463.6,1142.0 L1470.9,1145.8 L1478.1,1149.5 L1485.4,1153.0 L1492.6,1156.4 L1499.9,1159.7 L1507.1,1162.8 L1514.3,1165.8 L1521.6,1168.7 L1528.8,1171.4 L1536.1,1174.1 L1543.3,1176.7 L1550.6,1179.1 L1557.8,1181.5 L1565.1,1183.8 L1572.3,1186.0 L1579.5,1188.1 L1586.8,1190.1 L1594.0,1192.1 L1601.3,1193.9 L1608.5,1195.8 L1615.8,1197.5 L1623.0,1199.2 L1630.2,1200.9 L1637.5,1202.5 L1644.7,1204.0 L1652.0,1205.5 L1659.2,1206.9 L1666.5,1208.3 L1673.7,1209.7 L1680.9,1210.9 L1688.2,1212.2 L1695.4,1213.3 L1702.7,1214.5 L1709.9,1215.6 L1717.2,1216.6 L1724.4,1217.6 L1731.6,1218.5 L1738.9,1219.4 L1746.1,1220.3 L1753.4,1221.1 L1760.6,1221.9 L1767.9,1222.7 L1775.1,1223.4 L1782.3,1224.0 L1789.6,1224.7 L1796.8,1225.3 L1804.1,1225.8 L1811.3,1226.4 L1818.6,1226.9 L1825.8,1227.3 L1833.0,1227.8 L1840.3,1228.2 L1847.5,1228.6 L1854.8,1228.9 L1862.0,1229.2 L1869.3,1229.5 L1876.5,1229.8 L1883.7,1230.0 L1891.0,1230.3 L1898.2,1230.5 L1905.5,1230.6 L1912.7,1230.8 L1920.0,1230.9 L1927.2,1231.1 L1934.4,1231.2 L1941.7,1231.3 L1948.9,1231.3 L1956.2,1231.3 L1963.4,1231.3 L1970.7,1231.3 L1977.9,1231.3 L1985.1,1231.3 L1992.4,1231.3 L1999.6,1231.3"/>
<path stroke="#800000" d="M333.7,1218.5 L341.0,1217.6 L348.2,1216.7 L355.5,1215.8 L362.7,1214.8 L370.0,1213.7 L377.2,1212.6 L384.4,1211.4 L391.7,1210.2 L398.9,1209.0 L406.2,1207.7 L413.4,1206.3 L420.7,1204.9 L427.9,1203.4 L435.1,1201.9 L442.4,1200.3 L449.6,1198.6 L456.9,1196.9 L464.1,1195.1 L471.4,1193.3 L478.6,1191.4 L485.8,1189.5 L493.1,1187.4 L500.3,1185.4 L507.6,1183.2 L514.8,1181.0 L522.1,1178.7 L529.3,1176.4 L536.5,1173.9 L543.8,1171.4 L551.0,1168.8 L558.3,1166.1 L565.5,1163.2 L572.8,1160.3 L580.0,1157.3 L587.2,1154.1 L594.5,1150.9 L601.7,1147.5 L609.0,1143.9 L616.2,1140.3 L623.5,1136.5 L630.7,1132.5 L637.9,1128.5 L645.2,1124.3 L652.4,1120.1 L659.7,1115.9 L666.9,1111.7 L674.2,1107.5 L681.4,1103.2 L688.6,1099.0 L695.9,1094.7 L703.1,1090.5 L710.4,1086.2 L717.6,1081.8 L724.9,1077.4 L732.1,1073.0 L739.3,1068.5 L746.6,1064.0 L753.8,1059.4 L761.1,1054.8 L768.3,1050.0 L775.6,1045.2 L782.8,1040.3 L790.0,1035.4 L797.3,1030.4 L804.5,1025.3 L811.8,1020.2 L819.0,1015.0 L826.3,1009.8 L833.5,1004.6 L840.8,999.4 L848.0,994.2 L855.2,989.0 L862.5,983.9 L869.7,978.8 L877.0,973.8 L884.2,968.8 L891.5,963.9 L898.7,959.1 L905.9,954.4 L913.2,949.7 L920.4,945.3 L927.7,940.9 L934.9,936.7 L942.2,932.6 L949.4,928.7 L956.6,925.0 L963.9,921.5 L971.1,918.1 L978.4,915.0 L985.6,912.1 L992.9,909.4 L1000.1,906.9 L1007.3,904.6 L1014.6,902.6 L1021.8,900.7 L1029.1,899.0 L1036.3,897.6 L1043.6,896.3 L1050.8,895.2 L1058.0,894.4 L1065.3,893.7 L1072.5,893.2 L1079.8,892.9 L1087.0,892.7 L1094.3,892.8 L1101.5,893.0 L1108.7,893.4 L1116.0,894.0 L1123.2,894.8 L1130.5,895.8 L1137.7,896.9 L1145.0,898.3 L1152.2,900.0 L1159.4,901.8 L1166.7,903.9 L1173.9,906.3 L1181.2,908.9 L1188.4,911.8 L1195.7,915.0 L1202.9,918.4 L1210.1,922.2 L1217.4,926.3 L1224.6,930.8 L1231.9,935.5 L1239.1,940.6 L1246.4,945.9 L1253.6,951.5 L1260.8,957.3 L1268.1,963.4 L1275.3,969.6 L1282.6,976.0 L1289.8,982.6 L1297.1,989.3 L1304.3,996.2 L1311.5,1003.1 L1318.8,1010.1 L1326.0,1017.2 L1333.3,1024.3 L1340.5,1031.4 L1347.8,1038.5 L1355.0,1045.6 L1362.2,1052.6 L1369.5,1059.5 L1376.7,1066.2 L1384.0,1072.8 L1391.2,1079.2 L1398.5,1085.4 L1405.7,1091.3 L1412.9,1097.1 L1420.2,1102.6 L1427.4,1107.9 L1434.7,1113.0 L1441.9,1118.0 L1449.2,1122.7 L1456.4,1127.3 L1463.6,1131.7 L1470.9,1136.0 L1478.1,1140.1 L1485.4,1144.0 L1492.6,1147.8 L1499.9,1151.4 L1507.1,1154.9 L1514.3,1158.2 L1521.6,1161.4 L1528.8,1164.5 L1536.1,1167.5 L1543.3,1170.4 L1550.6,1173.1 L1557.8,1175.7 L1565.1,1178.3 L1572.3,1180.7 L1579.5,1183.1 L1586.8,1185.3 L1594.0,1187.5 L1601.3,1189.6 L1608.5,1191.7 L1615.8,1193.6 L1623.0,1195.5 L1630.2,1197.4 L1637.5,1199.2 L1644.7,1200.9 L1652.0,1202.5 L1659.2,1204.1 L1666.5,1205.7 L1673.7,1207.2 L1680.9,1208.6 L1688.2,1210.0 L1695.4,1211.3 L1702.7,1212.5 L1709.9,1213.7 L1717.2,1214.9 L1724.4,1216.0 L1731.6,1217.1 L1738.9,1218.1 L1746.1,1219.0 L1753.4,1220.0 L1760.6,1220.8 L1767.9,1221.7 L1775.1,1222.5 L1782.3,1223.2 L1789.6,1223.9 L1796.8,1224.6 L1804.1,1225.2 L1811.3,1225.8 L1818.6,1226.4 L1825.8,1226.9 L1833.0,1227.4 L1840.3,1227.8 L1847.5,1228.2 L1854.8,1228.6 L1862.0,1229.0 L1869.3,1229.3 L1876.5,1229.6 L1883.7,1229.9 L1891.0,1230.1 L1898.2,1230.4 L1905.5,1230.6 L1912.7,1230.7 L1920.0,1230.9 L1927.2,1231.0 L1934.4,1231.2 L1941.7,1231.3 L1948.9,1231.3 L1956.2,1231.3 L1963.4,1231.3 L1970.7,1231.3 L1977.9,1231.3 L1985.1,1231.3 L1992.4,1231.3 L1999.6,1231.3"/>
<path stroke="#008000" d="M333.7,1213.6 L341.0,1212.4 L348.2,1211.2 L355.5,1209.8 L362.7,1208.5 L370.0,1207.0 L377.2,1205.5 L384.4,1203.9 L391.7,1202.2 L398.9,1200.5 L406.2,1198.7 L413.4,1196.8 L420.7,1194.8 L427.9,1192.8 L435.1,1190.7 L442.4,1188.5 L449.6,1186.2 L456.9,1183.8 L464.1,1181.4 L471.4,1178.9 L478.6,1176.3 L485.8,1173.6 L493.1,1170.8 L500.3,1167.9 L507.6,1164.9 L514.8,1161.9 L522.1,1158.7 L529.3,1155.5 L536.5,1152.1 L543.8,1148.6 L551.0,1145.0 L558.3,1141.3 L565.5,1137.4 L572.8,1133.3 L580.0,1129.1 L587.2,1124.8 L594.5,1120.3 L601.7,1115.6 L609.0,1110.7 L616.2,1105.7 L623.5,1100.4 L630.7,1095.0 L637.9,1089.4 L645.2,1083.6 L652.4,1077.8 L659.7,1072.0 L666.9,1066.2 L674.2,1060.4 L681.4,1054.6 L688.6,1048.7 L695.9,1042.8 L703.1,1036.9 L710.4,1031.0 L717.6,1025.0 L724.9,1018.9 L732.1,1012.8 L739.3,1006.7 L746.6,1000.4 L753.8,994.1 L761.1,987.6 L768.3,981.1 L775.6,974.5 L782.8,967.7 L790.0,960.9 L797.3,954.0 L804.5,947.0 L811.8,939.9 L819.0,932.8 L826.3,925.6 L833.5,918.4 L840.8,911.2 L848.0,904.1 L855.2,896.9 L862.5,889.8 L869.7,882.8 L877.0,875.9 L884.2,869.0 L891.5,862.2 L898.7,855.6 L905.9,849.1 L913.2,842.7 L920.4,836.5 L927.7,830.5 L934.9,824.7 L942.2,819.1 L949.4,813.7 L956.6,808.6 L963.9,803.7 L971.1,799.1 L978.4,794.8 L985.6,790.8 L992.9,787.0 L1000.1,783.6 L1007.3,780.5 L1014.6,777.6 L1021.8,775.0 L1029.1,772.7 L1036.3,770.7 L1043.6,768.9 L1050.8,767.5 L1058.0,766.3 L1065.3,765.3 L1072.5,764.6 L1079.8,764.2 L1087.0,764.0 L1094.3,764.1 L1101.5,764.4 L1108.7,765.0 L1116.0,765.8 L1123.2,766.9 L1130.5,768.2 L1137.7,769.8 L1145.0,771.8 L1152.2,774.0 L1159.4,776.5 L1166.7,779.4 L1173.9,782.7 L1181.2,786.3 L1188.4,790.3 L1195.7,794.7 L1202.9,799.5 L1210.1,804.7 L1217.4,810.4 L1224.6,816.5 L1231.9,823.1 L1239.1,830.0 L1246.4,837.4 L1253.6,845.1 L1260.8,853.1 L1268.1,861.5 L1275.3,870.1 L1282.6,879.0 L1289.8,888.1 L1297.1,897.4 L1304.3,906.8 L1311.5,916.4 L1318.8,926.0 L1326.0,935.8 L1333.3,945.6 L1340.5,955.4 L1347.8,965.2 L1355.0,975.0 L1362.2,984.6 L1369.5,994.2 L1376.7,1003.5 L1384.0,1012.6 L1391.2,1021.4 L1398.5,1029.9 L1405.7,1038.1 L1412.9,1046.0 L1420.2,1053.7 L1427.4,1061.0 L1434.7,1068.1 L1441.9,1074.9 L1449.2,1081.5 L1456.4,1087.8 L1463.6,1093.9 L1470.9,1099.7 L1478.1,1105.4 L1485.4,1110.8 L1492.6,1116.0 L1499.9,1121.0 L1507.1,1125.8 L1514.3,1130.4 L1521.6,1134.9 L1528.8,1139.2 L1536.1,1143.3 L1543.3,1147.2 L1550.6,1151.0 L1557.8,1154.6 L1565.1,1158.1 L1572.3,1161.5 L1579.5,1164.7 L1586.8,1167.9 L1594.0,1170.9 L1601.3,1173.8 L1608.5,1176.6 L1615.8,1179.3 L1623.0,1182.0 L1630.2,1184.5 L1637.5,1186.9 L1644.7,1189.3 L1652.0,1191.6 L1659.2,1193.8 L1666.5,1195.9 L1673.7,1198.0 L1680.9,1199.9 L1688.2,1201.8 L1695.4,1203.7 L1702.7,1205.4 L1709.9,1207.1 L1717.2,1208.7 L1724.4,1210.2 L1731.6,1211.7 L1738.9,1213.1 L1746.1,1214.4 L1753.4,1215.7 L1760.6,1216.9 L1767.9,1218.0 L1775.1,1219.1 L1782.3,1220.1 L1789.6,1221.1 L1796.8,1222.0 L1804.1,1222.9 L1811.3,1223.7 L1818.6,1224.5 L1825.8,1225.2 L1833.0,1225.9 L1840.3,1226.5 L1847.5,1227.1 L1854.8,1227.6 L1862.0,1228.1 L1869.3,1228.6 L1876.5,1229.0 L1883.7,1229.4 L1891.0,1229.7 L1898.2,1230.0 L1905.5,1230.3 L1912.7,1230.5 L1920.0,1230.8 L1927.2,1230.9 L1934.4,1231.1 L1941.7,1231.2 L1948.9,1231.3 L1956.2,1231.3 L1963.4,1231.3 L1970.7,1231.3 L1977.9,1231.3 L1985.1,1231.3 L1992.4,1231.3 L1999.6,1231.3"/>
<path stroke="#008080" d="M333.7,1209.7 L341.0,1208.2 L348.2,1206.7 L355.5,1205.1 L362.7,1203.4 L370.0,1201.6 L377.2,1199.8 L384.4,1197.8 L391.7,1195.8 L398.9,1193.7 L406.2,1191.4 L413.4,1189.1 L420.7,1186.7 L427.9,1184.2 L435.1,1181.7 L442.4,1179.0 L449.6,1176.2 L456.9,1173.3 L464.1,1170.3 L471.4,1167.2 L478.6,1164.0 L485.8,1160.7 L493.1,1157.3 L500.3,1153.8 L507.6,1150.2 L514.8,1146.5 L522.1,1142.6 L529.3,1138.6 L536.5,1134.5 L543.8,1130.3 L551.0,1125.9 L558.3,1121.3 L565.5,1116.5 L572.8,1111.6 L580.0,1106.5 L587.2,1101.2 L594.5,1095.7 L601.7,1089.9 L609.0,1084.0 L616.2,1077.8 L623.5,1071.4 L630.7,1064.7 L637.9,1057.9 L645.2,1050.9 L652.4,1043.8 L659.7,1036.7 L666.9,1029.6 L674.2,1022.5 L681.4,1015.3 L688.6,1008.2 L695.9,1001.0 L703.1,993.8 L710.4,986.5 L717.6,979.2 L724.9,971.8 L732.1,964.4 L739.3,956.8 L746.6,949.2 L753.8,941.4 L761.1,933.6 L768.3,925.6 L775.6,917.5 L782.8,909.3 L790.0,900.9 L797.3,892.4 L804.5,883.9 L811.8,875.2 L819.0,866.5 L826.3,857.8 L833.5,849.0 L840.8,840.2 L848.0,831.5 L855.2,822.8 L862.5,814.1 L869.7,805.5 L877.0,797.0 L884.2,788.6 L891.5,780.3 L898.7,772.2 L905.9,764.3 L913.2,756.5 L920.4,748.9 L927.7,741.6 L934.9,734.5 L942.2,727.6 L949.4,721.1 L956.6,714.8 L963.9,708.8 L971.1,703.2 L978.4,697.9 L985.6,693.0 L992.9,688.5 L1000.1,684.3 L1007.3,680.4 L1014.6,676.9 L1021.8,673.8 L1029.1,671.0 L1036.3,668.5 L1043.6,666.4 L1050.8,664.6 L1058.0,663.1 L1065.3,661.9 L1072.5,661.1 L1079.8,660.5 L1087.0,660.3 L1094.3,660.4 L1101.5,660.8 L1108.7,661.5 L1116.0,662.5 L1123.2,663.8 L1130.5,665.5 L1137.7,667.4 L1145.0,669.8 L1152.2,672.5 L1159.4,675.6 L1166.7,679.2 L1173.9,683.2 L1181.2,687.6 L1188.4,692.5 L1195.7,697.8 L1202.9,703.7 L1210.1,710.1 L1217.4,717.0 L1224.6,724.5 L1231.9,732.5 L1239.1,741.0 L1246.4,750.0 L1253.6,759.4 L1260.8,769.3 L1268.1,779.5 L1275.3,790.0 L1282.6,800.8 L1289.8,811.9 L1297.1,823.3 L1304.3,834.8 L1311.5,846.5 L1318.8,858.3 L1326.0,870.2 L1333.3,882.2 L1340.5,894.2 L1347.8,906.2 L1355.0,918.1 L1362.2,929.9 L1369.5,941.5 L1376.7,952.9 L1384.0,964.1 L1391.2,974.9 L1398.5,985.3 L1405.7,995.3 L1412.9,1004.9 L1420.2,1014.2 L1427.4,1023.2 L1434.7,1031.9 L1441.9,1040.2 L1449.2,1048.2 L1456.4,1055.9 L1463.6,1063.4 L1470.9,1070.5 L1478.1,1077.4 L1485.4,1084.0 L1492.6,1090.4 L1499.9,1096.5 L1507.1,1102.4 L1514.3,1108.1 L1521.6,1113.5 L1528.8,1118.7 L1536.1,1123.7 L1543.3,1128.5 L1550.6,1133.2 L1557.8,1137.6 L1565.1,1141.9 L1572.3,1146.0 L1579.5,1150.0 L1586.8,1153.8 L1594.0,1157.5 L1601.3,1161.0 L1608.5,1164.5 L1615.8,1167.8 L1623.0,1171.0 L1630.2,1174.1 L1637.5,1177.1 L1644.7,1180.0 L1652.0,1182.8 L1659.2,1185.5 L1666.5,1188.1 L1673.7,1190.6 L1680.9,1193.0 L1688.2,1195.3 L1695.4,1197.5 L1702.7,1199.6 L1709.9,1201.7 L1717.2,1203.6 L1724.4,1205.5 L1731.6,1207.3 L1738.9,1209.0 L1746.1,1210.6 L1753.4,1212.2 L1760.6,1213.7 L1767.9,1215.1 L1775.1,1216.4 L1782.3,1217.7 L1789.6,1218.8 L1796.8,1220.0 L1804.1,1221.0 L1811.3,1222.0 L1818.6,1223.0 L1825.8,1223.8 L1833.0,1224.7 L1840.3,1225.4 L1847.5,1226.1 L1854.8,1226.8 L1862.0,1227.4 L1869.3,1228.0 L1876.5,1228.5 L1883.7,1228.9 L1891.0,1229.3 L1898.2,1229.7 L1905.5,1230.1 L1912.7,1230.4 L1920.0,1230.6 L1927.2,1230.9 L1934.4,1231.1 L1941.7,1231.2 L1948.9,1231.3 L1956.2,1231.3 L1963.4,1231.3 L1970.7,1231.3 L1977.9,1231.3 L1985.1,1231.3 L1992.4,1231.3 L1999.6,1231.3"/>
<path stroke="#0000a0" d="M333.7,1206.8 L341.0,1205.2 L348.2,1203.4 L355.5,1201.6 L362.7,1199.7 L370.0,1197.7 L377.2,1195.6 L384.4,1193.4 L391.7,1191.1 L398.9,1188.7 L406.2,1186.2 L413.4,1183.6 L420.7,1180.8 L427.9,1178.0 L435.1,1175.1 L442.4,1172.0 L449.6,1168.9 L456.9,1165.6 L464.1,1162.2 L471.4,1158.7 L478.6,1155.1 L485.8,1151.4 L493.1,1147.5 L500.3,1143.6 L507.6,1139.5 L514.8,1135.2 L522.1,1130.9 L529.3,1126.4 L536.5,1121.7 L543.8,1116.9 L551.0,1111.9 L558.3,1106.7 L565.5,1101.3 L572.8,1095.7 L580.0,1090.0 L587.2,1083.9 L594.5,1077.7 L601.7,1071.2 L609.0,1064.5 L616.2,1057.5 L623.5,1050.2 L630.7,1042.7 L637.9,1034.9 L645.2,1027.0 L652.4,1018.9 L659.7,1010.9 L666.9,1002.9 L674.2,994.8 L681.4,986.7 L688.6,978.6 L695.9,970.5 L703.1,962.3 L710.4,954.1 L717.6,945.8 L724.9,937.5 L732.1,929.0 L739.3,920.5 L746.6,911.8 L753.8,903.0 L761.1,894.1 L768.3,885.1 L775.6,875.9 L782.8,866.6 L790.0,857.2 L797.3,847.6 L804.5,837.9 L811.8,828.1 L819.0,818.2 L826.3,808.3 L833.5,798.4 L840.8,788.4 L848.0,778.5 L855.2,768.6 L862.5,758.8 L869.7,749.1 L877.0,739.5 L884.2,730.0 L891.5,720.6 L898.7,711.4 L905.9,702.4 L913.2,693.6 L920.4,685.0 L927.7,676.7 L934.9,668.7 L942.2,660.9 L949.4,653.5 L956.6,646.4 L963.9,639.6 L971.1,633.3 L978.4,627.3 L985.6,621.7 L992.9,616.6 L1000.1,611.8 L1007.3,607.5 L1014.6,603.5 L1021.8,599.9 L1029.1,596.8 L1036.3,594.0 L1043.6,591.5 L1050.8,589.5 L1058.0,587.8 L1065.3,586.5 L1072.5,585.5 L1079.8,584.9 L1087.0,584.7 L1094.3,584.8 L1101.5,585.3 L1108.7,586.0 L1116.0,587.2 L1123.2,588.7 L1130.5,590.5 L1137.7,592.8 L1145.0,595.4 L1152.2,598.5 L1159.4,602.0 L1166.7,606.1 L1173.9,610.6 L1181.2,615.6 L1188.4,621.1 L1195.7,627.2 L1202.9,633.8 L1210.1,641.0 L1217.4,648.9 L1224.6,657.3 L1231.9,666.4 L1239.1,676.1 L1246.4,686.2 L1253.6,696.9 L1260.8,708.1 L1268.1,719.6 L1275.3,731.5 L1282.6,743.8 L1289.8,756.4 L1297.1,769.2 L1304.3,782.3 L1311.5,795.5 L1318.8,808.9 L1326.0,822.4 L1333.3,836.0 L1340.5,849.5 L1347.8,863.1 L1355.0,876.6 L1362.2,890.0 L1369.5,903.2 L1376.7,916.1 L1384.0,928.7 L1391.2,940.9 L1398.5,952.7 L1405.7,964.0 L1412.9,974.9 L1420.2,985.5 L1427.4,995.6 L1434.7,1005.4 L1441.9,1014.9 L1449.2,1024.0 L1456.4,1032.7 L1463.6,1041.1 L1470.9,1049.2 L1478.1,1057.0 L1485.4,1064.5 L1492.6,1071.7 L1499.9,1078.7 L1507.1,1085.3 L1514.3,1091.7 L1521.6,1097.9 L1528.8,1103.8 L1536.1,1109.5 L1543.3,1114.9 L1550.6,1120.2 L1557.8,1125.2 L1565.1,1130.1 L1572.3,1134.7 L1579.5,1139.2 L1586.8,1143.5 L1594.0,1147.7 L1601.3,1151.7 L1608.5,1155.6 L1615.8,1159.4 L1623.0,1163.0 L1630.2,1166.5 L1637.5,1169.9 L1644.7,1173.2 L1652.0,1176.4 L1659.2,1179.4 L1666.5,1182.4 L1673.7,1185.2 L1680.9,1187.9 L1688.2,1190.5 L1695.4,1193.0 L1702.7,1195.5 L1709.9,1197.8 L1717.2,1200.0 L1724.4,1202.1 L1731.6,1204.1 L1738.9,1206.1 L1746.1,1207.9 L1753.4,1209.7 L1760.6,1211.3 L1767.9,1212.9 L1775.1,1214.4 L1782.3,1215.8 L1789.6,1217.2 L1796.8,1218.5 L1804.1,1219.7 L1811.3,1220.8 L1818.6,1221.9 L1825.8,1222.9 L1833.0,1223.8 L1840.3,1224.6 L1847.5,1225.4 L1854.8,1226.2 L1862.0,1226.9 L1869.3,1227.5 L1876.5,1228.1 L1883.7,1228.6 L1891.0,1229.1 L1898.2,1229.5 L1905.5,1229.9 L1912.7,1230.2 L1920.0,1230.5 L1927.2,1230.8 L1934.4,1231.0 L1941.7,1231.2 L1948.9,1231.3 L1956.2,1231.3 L1963.4,1231.3 L1970.7,1231.3 L1977.9,1231.3 L1985.1,1231.3 L1992.4,1231.3 L1999.6,1231.3"/>
<path stroke="#ff8000" d="M333.7,1203.1 L341.0,1201.3 L348.2,1199.3 L355.5,1197.2 L362.7,1195.0 L370.0,1192.7 L377.2,1190.2 L384.4,1187.7 L391.7,1185.1 L398.9,1182.3 L406.2,1179.4 L413.4,1176.4 L420.7,1173.3 L427.9,1170.0 L435.1,1166.7 L442.4,1163.2 L449.6,1159.6 L456.9,1155.8 L464.1,1151.9 L471.4,1147.9 L478.6,1143.7 L485.8,1139.4 L493.1,1135.0 L500.3,1130.5 L507.6,1125.7 L514.8,1120.9 L522.1,1115.9 L529.3,1110.7 L536.5,1105.3 L543.8,1099.8 L551.0,1094.0 L558.3,1088.1 L565.5,1081.9 L572.8,1075.5 L580.0,1068.8 L587.2,1061.9 L594.5,1054.7 L601.7,1047.3 L609.0,1039.5 L616.2,1031.5 L623.5,1023.1 L630.7,1014.5 L637.9,1005.5 L645.2,996.4 L652.4,987.2 L659.7,977.9 L666.9,968.7 L674.2,959.4 L681.4,950.2 L688.6,940.9 L695.9,931.5 L703.1,922.1 L710.4,912.7 L717.6,903.2 L724.9,893.5 L732.1,883.8 L739.3,874.0 L746.6,864.0 L753.8,854.0 L761.1,843.7 L768.3,833.4 L775.6,822.8 L782.8,812.1 L790.0,801.2 L797.3,790.2 L804.5,779.0 L811.8,767.8 L819.0,756.4 L826.3,745.1 L833.5,733.6 L840.8,722.2 L848.0,710.8 L855.2,699.5 L862.5,688.2 L869.7,677.0 L877.0,665.9 L884.2,655.0 L891.5,644.2 L898.7,633.7 L905.9,623.3 L913.2,613.2 L920.4,603.4 L927.7,593.8 L934.9,584.5 L942.2,575.6 L949.4,567.1 L956.6,558.9 L963.9,551.2 L971.1,543.8 L978.4,537.0 L985.6,530.6 L992.9,524.7 L1000.1,519.2 L1007.3,514.2 L1014.6,509.7 L1021.8,505.6 L1029.1,501.9 L1036.3,498.7 L1043.6,495.9 L1050.8,493.5 L1058.0,491.6 L1065.3,490.1 L1072.5,489.0 L1079.8,488.3 L1087.0,488.0 L1094.3,488.2 L1101.5,488.7 L1108.7,489.6 L1116.0,490.9 L1123.2,492.6 L1130.5,494.7 L1137.7,497.3 L1145.0,500.4 L1152.2,503.9 L1159.4,508.0 L1166.7,512.6 L1173.9,517.8 L1181.2,523.5 L1188.4,529.9 L1195.7,536.9 L1202.9,544.5 L1210.1,552.8 L1217.4,561.8 L1224.6,571.5 L1231.9,582.0 L1239.1,593.0 L1246.4,604.8 L1253.6,617.0 L1260.8,629.8 L1268.1,643.1 L1275.3,656.8 L1282.6,670.9 L1289.8,685.4 L1297.1,700.1 L1304.3,715.2 L1311.5,730.4 L1318.8,745.8 L1326.0,761.3 L1333.3,776.9 L1340.5,792.5 L1347.8,808.1 L1355.0,823.6 L1362.2,839.0 L1369.5,854.1 L1376.7,869.0 L1384.0,883.4 L1391.2,897.5 L1398.5,911.0 L1405.7,924.1 L1412.9,936.6 L1420.2,948.7 L1427.4,960.4 L1434.7,971.7 L1441.9,982.5 L1449.2,993.0 L1456.4,1003.0 L1463.6,1012.7 L1470.9,1022.0 L1478.1,1031.0 L1485.4,1039.6 L1492.6,1047.9 L1499.9,1055.9 L1507.1,1063.5 L1514.3,1070.9 L1521.6,1077.9 L1528.8,1084.7 L1536.1,1091.3 L1543.3,1097.5 L1550.6,1103.6 L1557.8,1109.3 L1565.1,1114.9 L1572.3,1120.3 L1579.5,1125.4 L1586.8,1130.4 L1594.0,1135.2 L1601.3,1139.8 L1608.5,1144.3 L1615.8,1148.6 L1623.0,1152.8 L1630.2,1156.9 L1637.5,1160.8 L1644.7,1164.5 L1652.0,1168.2 L1659.2,1171.7 L1666.5,1175.0 L1673.7,1178.3 L1680.9,1181.4 L1688.2,1184.4 L1695.4,1187.3 L1702.7,1190.1 L1709.9,1192.8 L1717.2,1195.3 L1724.4,1197.7 L1731.6,1200.1 L1738.9,1202.3 L1746.1,1204.4 L1753.4,1206.4 L1760.6,1208.3 L1767.9,1210.2 L1775.1,1211.9 L1782.3,1213.5 L1789.6,1215.1 L1796.8,1216.6 L1804.1,1217.9 L1811.3,1219.2 L1818.6,1220.5 L1825.8,1221.6 L1833.0,1222.7 L1840.3,1223.7 L1847.5,1224.6 L1854.8,1225.4 L1862.0,1226.2 L1869.3,1226.9 L1876.5,1227.6 L1883.7,1228.2 L1891.0,1228.8 L1898.2,1229.3 L1905.5,1229.7 L1912.7,1230.1 L1920.0,1230.4 L1927.2,1230.7 L1934.4,1231.0 L1941.7,1231.2 L1948.9,1231.3 L1956.2,1231.3 L1963.4,1231.3 L1970.7,1231.3 L1977.9,1231.3 L1985.1,1231.3 L1992.4,1231.3 L1999.6,1231.3"/>
<path stroke="#8000ff" d="M333.7,1200.4 L341.0,1198.4 L348.2,1196.2 L355.5,1193.9 L362.7,1191.5 L370.0,1188.9 L377.2,1186.3 L384.4,1183.5 L391.7,1180.6 L398.9,1177.6 L406.2,1174.4 L413.4,1171.1 L420.7,1167.7 L427.9,1164.1 L435.1,1160.4 L442.4,1156.6 L449.6,1152.6 L456.9,1148.5 L464.1,1144.3 L471.4,1139.9 L478.6,1135.3 L485.8,1130.6 L493.1,1125.7 L500.3,1120.7 L507.6,1115.6 L514.8,1110.2 L522.1,1104.7 L529.3,1099.1 L536.5,1093.2 L543.8,1087.1 L551.0,1080.8 L558.3,1074.3 L565.5,1067.5 L572.8,1060.5 L580.0,1053.2 L587.2,1045.6 L594.5,1037.7 L601.7,1029.5 L609.0,1021.1 L616.2,1012.2 L623.5,1003.1 L630.7,993.6 L637.9,983.8 L645.2,973.8 L652.4,963.7 L659.7,953.5 L666.9,943.4 L674.2,933.2 L681.4,923.1 L688.6,912.9 L695.9,902.6 L703.1,892.4 L710.4,882.0 L717.6,871.5 L724.9,861.0 L732.1,850.3 L739.3,839.6 L746.6,828.6 L753.8,817.6 L761.1,806.4 L768.3,795.0 L775.6,783.5 L782.8,771.7 L790.0,759.8 L797.3,747.7 L804.5,735.5 L811.8,723.1 L819.0,710.7 L826.3,698.2 L833.5,685.7 L840.8,673.2 L848.0,660.7 L855.2,648.2 L862.5,635.9 L869.7,623.6 L877.0,611.5 L884.2,599.5 L891.5,587.7 L898.7,576.1 L905.9,564.7 L913.2,553.6 L920.4,542.8 L927.7,532.4 L934.9,522.2 L942.2,512.5 L949.4,503.1 L956.6,494.1 L963.9,485.6 L971.1,477.6 L978.4,470.1 L985.6,463.1 L992.9,456.6 L1000.1,450.6 L1007.3,445.1 L1014.6,440.1 L1021.8,435.6 L1029.1,431.6 L1036.3,428.1 L1043.6,425.0 L1050.8,422.4 L1058.0,420.3 L1065.3,418.7 L1072.5,417.5 L1079.8,416.7 L1087.0,416.4 L1094.3,416.5 L1101.5,417.1 L1108.7,418.1 L1116.0,419.5 L1123.2,421.4 L1130.5,423.7 L1137.7,426.6 L1145.0,429.9 L1152.2,433.8 L1159.4,438.3 L1166.7,443.3 L1173.9,449.0 L1181.2,455.3 L1188.4,462.3 L1195.7,469.9 L1202.9,478.3 L1210.1,487.4 L1217.4,497.3 L1224.6,508.0 L1231.9,519.4 L1239.1,531.5 L1246.4,544.4 L1253.6,557.8 L1260.8,571.9 L1268.1,586.4 L1275.3,601.5 L1282.6,616.9 L1289.8,632.8 L1297.1,649.0 L1304.3,665.4 L1311.5,682.1 L1318.8,699.0 L1326.0,716.0 L1333.3,733.1 L1340.5,750.2 L1347.8,767.3 L1355.0,784.3 L1362.2,801.2 L1369.5,817.8 L1376.7,834.0 L1384.0,849.9 L1391.2,865.3 L1398.5,880.2 L1405.7,894.5 L1412.9,908.2 L1420.2,921.5 L1427.4,934.3 L1434.7,946.7 L1441.9,958.5 L1449.2,970.0 L1456.4,981.0 L1463.6,991.6 L1470.9,1001.9 L1478.1,1011.7 L1485.4,1021.1 L1492.6,1030.2 L1499.9,1039.0 L1507.1,1047.4 L1514.3,1055.4 L1521.6,1063.2 L1528.8,1070.6 L1536.1,1077.8 L1543.3,1084.6 L1550.6,1091.2 L1557.8,1097.6 L1565.1,1103.7 L1572.3,1109.6 L1579.5,1115.2 L1586.8,1120.7 L1594.0,1125.9 L1601.3,1131.0 L1608.5,1135.9 L1615.8,1140.7 L1623.0,1145.2 L1630.2,1149.7 L1637.5,1154.0 L1644.7,1158.1 L1652.0,1162.1 L1659.2,1165.9 L1666.5,1169.6 L1673.7,1173.2 L1680.9,1176.6 L1688.2,1179.9 L1695.4,1183.1 L1702.7,1186.1 L1709.9,1189.0 L1717.2,1191.8 L1724.4,1194.5 L1731.6,1197.0 L1738.9,1199.5 L1746.1,1201.8 L1753.4,1204.0 L1760.6,1206.1 L1767.9,1208.1 L1775.1,1210.0 L1782.3,1211.8 L1789.6,1213.5 L1796.8,1215.1 L1804.1,1216.6 L1811.3,1218.1 L1818.6,1219.4 L1825.8,1220.7 L1833.0,1221.8 L1840.3,1222.9 L1847.5,1223.9 L1854.8,1224.9 L1862.0,1225.7 L1869.3,1226.5 L1876.5,1227.2 L1883.7,1227.9 L1891.0,1228.5 L1898.2,1229.1 L1905.5,1229.5 L1912.7,1230.0 L1920.0,1230.4 L1927.2,1230.7 L1934.4,1231.0 L1941.7,1231.2 L1948.9,1231.3 L1956.2,1231.3 L1963.4,1231.3 L1970.7,1231.3 L1977.9,1231.3 L1985.1,1231.3 L1992.4,1231.3 L1999.6,1231.3"/>
<path stroke="#ff0080" d="M333.7,1198.4 L341.0,1196.2 L348.2,1193.8 L355.5,1191.4 L362.7,1188.8 L370.0,1186.1 L377.2,1183.3 L384.4,1180.3 L391.7,1177.2 L398.9,1174.0 L406.2,1170.6 L413.4,1167.1 L420.7,1163.4 L427.9,1159.6 L435.1,1155.7 L442.4,1151.6 L449.6,1147.4 L456.9,1143.0 L464.1,1138.4 L471.4,1133.7 L478.6,1128.9 L485.8,1123.9 L493.1,1118.7 L500.3,1113.3 L507.6,1107.8 L514.8,1102.1 L522.1,1096.3 L529.3,1090.2 L536.5,1083.9 L543.8,1077.5 L551.0,1070.7 L558.3,1063.8 L565.5,1056.5 L572.8,1049.0 L580.0,1041.2 L587.2,1033.1 L594.5,1024.7 L601.7,1016.0 L609.0,1007.0 L616.2,997.6 L623.5,987.8 L630.7,977.7 L637.9,967.2 L645.2,956.5 L652.4,945.8 L659.7,934.9 L666.9,924.1 L674.2,913.3 L681.4,902.4 L688.6,891.6 L695.9,880.6 L703.1,869.6 L710.4,858.6 L717.6,847.4 L724.9,836.2 L732.1,824.8 L739.3,813.3 L746.6,801.7 L753.8,789.9 L761.1,777.9 L768.3,765.8 L775.6,753.4 L782.8,740.9 L790.0,728.2 L797.3,715.3 L804.5,702.2 L811.8,689.1 L819.0,675.8 L826.3,662.5 L833.5,649.1 L840.8,635.8 L848.0,622.4 L855.2,609.2 L862.5,596.0 L869.7,582.9 L877.0,569.9 L884.2,557.1 L891.5,544.6 L898.7,532.2 L905.9,520.1 L913.2,508.2 L920.4,496.7 L927.7,485.5 L934.9,474.7 L942.2,464.3 L949.4,454.3 L956.6,444.7 L963.9,435.7 L971.1,427.1 L978.4,419.1 L985.6,411.6 L992.9,404.7 L1000.1,398.3 L1007.3,392.4 L1014.6,387.1 L1021.8,382.3 L1029.1,378.0 L1036.3,374.3 L1043.6,371.0 L1050.8,368.3 L1058.0,366.0 L1065.3,364.2 L1072.5,363.0 L1079.8,362.2 L1087.0,361.8 L1094.3,362.0 L1101.5,362.6 L1108.7,363.6 L1116.0,365.2 L1123.2,367.1 L1130.5,369.6 L1137.7,372.7 L1145.0,376.2 L1152.2,380.4 L1159.4,385.1 L1166.7,390.5 L1173.9,396.6 L1181.2,403.3 L1188.4,410.8 L1195.7,418.9 L1202.9,427.9 L1210.1,437.6 L1217.4,448.1 L1224.6,459.5 L1231.9,471.7 L1239.1,484.7 L1246.4,498.4 L1253.6,512.7 L1260.8,527.7 L1268.1,543.2 L1275.3,559.3 L1282.6,575.8 L1289.8,592.7 L1297.1,609.9 L1304.3,627.5 L1311.5,645.3 L1318.8,663.3 L1326.0,681.5 L1333.3,699.7 L1340.5,718.0 L1347.8,736.2 L1355.0,754.4 L1362.2,772.3 L1369.5,790.1 L1376.7,807.4 L1384.0,824.4 L1391.2,840.8 L1398.5,856.6 L1405.7,871.9 L1412.9,886.6 L1420.2,900.8 L1427.4,914.4 L1434.7,927.6 L1441.9,940.3 L1449.2,952.5 L1456.4,964.3 L1463.6,975.6 L1470.9,986.5 L1478.1,997.0 L1485.4,1007.1 L1492.6,1016.8 L1499.9,1026.1 L1507.1,1035.0 L1514.3,1043.6 L1521.6,1051.9 L1528.8,1059.8 L1536.1,1067.5 L1543.3,1074.8 L1550.6,1081.9 L1557.8,1088.6 L1565.1,1095.2 L1572.3,1101.4 L1579.5,1107.5 L1586.8,1113.3 L1594.0,1118.9 L1601.3,1124.3 L1608.5,1129.5 L1615.8,1134.6 L1623.0,1139.5 L1630.2,1144.2 L1637.5,1148.8 L1644.7,1153.2 L1652.0,1157.4 L1659.2,1161.5 L1666.5,1165.5 L1673.7,1169.3 L1680.9,1173.0 L1688.2,1176.5 L1695.4,1179.9 L1702.7,1183.1 L1709.9,1186.2 L1717.2,1189.2 L1724.4,1192.0 L1731.6,1194.8 L1738.9,1197.4 L1746.1,1199.8 L1753.4,1202.2 L1760.6,1204.4 L1767.9,1206.6 L1775.1,1208.6 L1782.3,1210.5 L1789.6,1212.3 L1796.8,1214.0 L1804.1,1215.7 L1811.3,1217.2 L1818.6,1218.6 L1825.8,1219.9 L1833.0,1221.2 L1840.3,1222.4 L1847.5,1223.4 L1854.8,1224.4 L1862.0,1225.4 L1869.3,1226.2 L1876.5,1227.0 L1883.7,1227.7 L1891.0,1228.3 L1898.2,1228.9 L1905.5,1229.4 L1912.7,1229.9 L1920.0,1230.3 L1927.2,1230.6 L1934.4,1230.9 L1941.7,1231.2 L1948.9,1231.3 L1956.2,1231.3 L1963.4,1231.3 L1970.7,1231.3 L1977.9,1231.3 L1985.1,1231.3 L1992.4,1231.3 L1999.6,1231.3"/>
<path stroke="#ffffff" d="M333.7,1196.4 L341.0,1194.0 L348.2,1191.6 L355.5,1189.0 L362.7,1186.3 L370.0,1183.4 L377.2,1180.4 L384.4,1177.2 L391.7,1174.0 L398.9,1170.5 L406.2,1167.0 L413.4,1163.2 L420.7,1159.4 L427.9,1155.3 L435.1,1151.2 L442.4,1146.8 L449.6,1142.3 L456.9,1137.7 L464.1,1132.9 L471.4,1127.9 L478.6,1122.7 L485.8,1117.4 L493.1,1111.9 L500.3,1106.3 L507.6,1100.4 L514.8,1094.4 L522.1,1088.2 L529.3,1081.8 L536.5,1075.1 L543.8,1068.2 L551.0,1061.1 L558.3,1053.7 L565.5,1046.1 L572.8,1038.1 L580.0,1029.8 L587.2,1021.3 L594.5,1012.4 L601.7,1003.1 L609.0,993.5 L616.2,983.6 L623.5,973.2 L630.7,962.5 L637.9,951.4 L645.2,940.1 L652.4,928.6 L659.7,917.2 L666.9,905.7 L674.2,894.2 L681.4,882.7 L688.6,871.2 L695.9,859.6 L703.1,848.0 L710.4,836.3 L717.6,824.4 L724.9,812.5 L732.1,800.5 L739.3,788.3 L746.6,775.9 L753.8,763.4 L761.1,750.8 L768.3,737.9 L775.6,724.8 L782.8,711.5 L790.0,698.0 L797.3,684.4 L804.5,670.5 L811.8,656.6 L819.0,642.5 L826.3,628.4 L833.5,614.3 L840.8,600.1 L848.0,586.0 L855.2,571.9 L862.5,557.9 L869.7,544.0 L877.0,530.3 L884.2,516.8 L891.5,503.4 L898.7,490.3 L905.9,477.5 L913.2,464.9 L920.4,452.7 L927.7,440.9 L934.9,429.4 L942.2,418.3 L949.4,407.7 L956.6,397.6 L963.9,388.0 L971.1,378.9 L978.4,370.4 L985.6,362.5 L992.9,355.2 L1000.1,348.4 L1007.3,342.2 L1014.6,336.5 L1021.8,331.5 L1029.1,326.9 L1036.3,322.9 L1043.6,319.5 L1050.8,316.6 L1058.0,314.2 L1065.3,312.3 L1072.5,310.9 L1079.8,310.1 L1087.0,309.7 L1094.3,309.9 L1101.5,310.5 L1108.7,311.7 L1116.0,313.3 L1123.2,315.4 L1130.5,318.0 L1137.7,321.2 L1145.0,325.0 L1152.2,329.4 L1159.4,334.5 L1166.7,340.2 L1173.9,346.6 L1181.2,353.7 L1188.4,361.6 L1195.7,370.3 L1202.9,379.7 L1210.1,390.0 L1217.4,401.2 L1224.6,413.3 L1231.9,426.2 L1239.1,439.9 L1246.4,454.4 L1253.6,469.7 L1260.8,485.5 L1268.1,502.0 L1275.3,519.0 L1282.6,536.5 L1289.8,554.4 L1297.1,572.7 L1304.3,591.3 L1311.5,610.2 L1318.8,629.3 L1326.0,648.5 L1333.3,667.8 L1340.5,687.2 L1347.8,706.5 L1355.0,725.8 L1362.2,744.8 L1369.5,763.6 L1376.7,782.0 L1384.0,800.0 L1391.2,817.4 L1398.5,834.2 L1405.7,850.4 L1412.9,865.9 L1420.2,881.0 L1427.4,895.4 L1434.7,909.4 L1441.9,922.8 L1449.2,935.8 L1456.4,948.3 L1463.6,960.3 L1470.9,971.8 L1478.1,982.9 L1485.4,993.6 L1492.6,1003.9 L1499.9,1013.8 L1507.1,1023.3 L1514.3,1032.4 L1521.6,1041.2 L1528.8,1049.6 L1536.1,1057.7 L1543.3,1065.4 L1550.6,1072.9 L1557.8,1080.1 L1565.1,1087.0 L1572.3,1093.6 L1579.5,1100.0 L1586.8,1106.2 L1594.0,1112.2 L1601.3,1117.9 L1608.5,1123.4 L1615.8,1128.8 L1623.0,1134.0 L1630.2,1139.0 L1637.5,1143.8 L1644.7,1148.5 L1652.0,1153.0 L1659.2,1157.4 L1666.5,1161.6 L1673.7,1165.6 L1680.9,1169.5 L1688.2,1173.2 L1695.4,1176.8 L1702.7,1180.2 L1709.9,1183.5 L1717.2,1186.7 L1724.4,1189.7 L1731.6,1192.6 L1738.9,1195.3 L1746.1,1197.9 L1753.4,1200.5 L1760.6,1202.8 L1767.9,1205.1 L1775.1,1207.2 L1782.3,1209.3 L1789.6,1211.2 L1796.8,1213.0 L1804.1,1214.7 L1811.3,1216.3 L1818.6,1217.8 L1825.8,1219.3 L1833.0,1220.6 L1840.3,1221.8 L1847.5,1223.0 L1854.8,1224.0 L1862.0,1225.0 L1869.3,1225.9 L1876.5,1226.7 L1883.7,1227.5 L1891.0,1228.2 L1898.2,1228.8 L1905.5,1229.3 L1912.7,1229.8 L1920.0,1230.2 L1927.2,1230.6 L1934.4,1230.9 L1941.7,1231.2 L1948.9,1231.3 L1956.2,1231.3 L1963.4,1231.3 L1970.7,1231.3 L1977.9,1231.3 L1985.1,1231.3 L1992.4,1231.3 L1999.6,1231.3"/>
<path stroke="#c0c0c0" d="M333.7,1194.4 L341.0,1191.9 L348.2,1189.3 L355.5,1186.5 L362.7,1183.6 L370.0,1180.6 L377.2,1177.4 L384.4,1174.1 L391.7,1170.6 L398.9,1167.0 L406.2,1163.2 L413.4,1159.3 L420.7,1155.2 L427.9,1150.9 L435.1,1146.5 L442.4,1141.9 L449.6,1137.2 L456.9,1132.2 L464.1,1127.1 L471.4,1121.9 L478.6,1116.4 L485.8,1110.8 L493.1,1105.0 L500.3,1099.0 L507.6,1092.8 L514.8,1086.4 L522.1,1079.9 L529.3,1073.1 L536.5,1066.0 L543.8,1058.8 L551.0,1051.2 L558.3,1043.4 L565.5,1035.3 L572.8,1026.9 L580.0,1018.1 L587.2,1009.1 L594.5,999.6 L601.7,989.9 L609.0,979.7 L616.2,969.1 L623.5,958.2 L630.7,946.8 L637.9,935.1 L645.2,923.1 L652.4,911.0 L659.7,898.9 L666.9,886.8 L674.2,874.6 L681.4,862.5 L688.6,850.3 L695.9,838.0 L703.1,825.7 L710.4,813.3 L717.6,800.8 L724.9,788.2 L732.1,775.4 L739.3,762.5 L746.6,749.4 L753.8,736.2 L761.1,722.8 L768.3,709.2 L775.6,695.4 L782.8,681.3 L790.0,667.0 L797.3,652.6 L804.5,637.9 L811.8,623.2 L819.0,608.3 L826.3,593.3 L833.5,578.4 L840.8,563.4 L848.0,548.4 L855.2,533.5 L862.5,518.7 L869.7,504.1 L877.0,489.5 L884.2,475.2 L891.5,461.1 L898.7,447.2 L905.9,433.6 L913.2,420.4 L920.4,407.4 L927.7,394.9 L934.9,382.8 L942.2,371.1 L949.4,359.9 L956.6,349.1 L963.9,339.0 L971.1,329.4 L978.4,320.4 L985.6,312.0 L992.9,304.2 L1000.1,297.0 L1007.3,290.5 L1014.6,284.5 L1021.8,279.1 L1029.1,274.3 L1036.3,270.1 L1043.6,266.5 L1050.8,263.4 L1058.0,260.8 L1065.3,258.8 L1072.5,257.4 L1079.8,256.5 L1087.0,256.1 L1094.3,256.3 L1101.5,257.0 L1108.7,258.2 L1116.0,259.9 L1123.2,262.1 L1130.5,264.9 L1137.7,268.3 L1145.0,272.3 L1152.2,277.0 L1159.4,282.3 L1166.7,288.3 L1173.9,295.1 L1181.2,302.7 L1188.4,311.0 L1195.7,320.2 L1202.9,330.2 L1210.1,341.1 L1217.4,352.9 L1224.6,365.7 L1231.9,379.4 L1239.1,393.9 L1246.4,409.3 L1253.6,425.4 L1260.8,442.2 L1268.1,459.6 L1275.3,477.6 L1282.6,496.1 L1289.8,515.1 L1297.1,534.4 L1304.3,554.1 L1311.5,574.1 L1318.8,594.3 L1326.0,614.6 L1333.3,635.1 L1340.5,655.6 L1347.8,676.0 L1355.0,696.4 L1362.2,716.6 L1369.5,736.4 L1376.7,755.9 L1384.0,774.9 L1391.2,793.3 L1398.5,811.1 L1405.7,828.2 L1412.9,844.7 L1420.2,860.6 L1427.4,875.9 L1434.7,890.7 L1441.9,904.9 L1449.2,918.6 L1456.4,931.8 L1463.6,944.5 L1470.9,956.7 L1478.1,968.5 L1485.4,979.8 L1492.6,990.7 L1499.9,1001.1 L1507.1,1011.2 L1514.3,1020.8 L1521.6,1030.1 L1528.8,1039.0 L1536.1,1047.6 L1543.3,1055.8 L1550.6,1063.7 L1557.8,1071.3 L1565.1,1078.6 L1572.3,1085.6 L1579.5,1092.4 L1586.8,1098.9 L1594.0,1105.2 L1601.3,1111.3 L1608.5,1117.2 L1615.8,1122.8 L1623.0,1128.3 L1630.2,1133.6 L1637.5,1138.7 L1644.7,1143.7 L1652.0,1148.5 L1659.2,1153.1 L1666.5,1157.5 L1673.7,1161.8 L1680.9,1165.9 L1688.2,1169.8 L1695.4,1173.6 L1702.7,1177.2 L1709.9,1180.7 L1717.2,1184.1 L1724.4,1187.3 L1731.6,1190.3 L1738.9,1193.2 L1746.1,1196.0 L1753.4,1198.7 L1760.6,1201.2 L1767.9,1203.6 L1775.1,1205.8 L1782.3,1208.0 L1789.6,1210.0 L1796.8,1212.0 L1804.1,1213.8 L1811.3,1215.5 L1818.6,1217.1 L1825.8,1218.6 L1833.0,1220.0 L1840.3,1221.3 L1847.5,1222.5 L1854.8,1223.6 L1862.0,1224.6 L1869.3,1225.6 L1876.5,1226.5 L1883.7,1227.2 L1891.0,1228.0 L1898.2,1228.6 L1905.5,1229.2 L1912.7,1229.7 L1920.0,1230.2 L1927.2,1230.6 L1934.4,1230.9 L1941.7,1231.2 L1948.9,1231.3 L1956.2,1231.3 L1963.4,1231.3 L1970.7,1231.3 L1977.9,1231.3 L1985.1,1231.3 L1992.4,1231.3 L1999.6,1231.3"/>
<path stroke="#808080" d="M333.7,1191.7 L341.0,1189.1 L348.2,1186.3 L355.5,1183.4 L362.7,1180.3 L370.0,1177.0 L377.2,1173.6 L384.4,1170.1 L391.7,1166.3 L398.9,1162.4 L406.2,1158.4 L413.4,1154.2 L420.7,1149.8 L427.9,1145.2 L435.1,1140.5 L442.4,1135.6 L449.6,1130.5 L456.9,1125.2 L464.1,1119.8 L471.4,1114.1 L478.6,1108.3 L485.8,1102.3 L493.1,1096.0 L500.3,1089.6 L507.6,1083.0 L514.8,1076.2 L522.1,1069.1 L529.3,1061.8 L536.5,1054.3 L543.8,1046.5 L551.0,1038.4 L558.3,1030.1 L565.5,1021.4 L572.8,1012.4 L580.0,1003.0 L587.2,993.3 L594.5,983.2 L601.7,972.7 L609.0,961.9 L616.2,950.6 L623.5,938.8 L630.7,926.7 L637.9,914.1 L645.2,901.3 L652.4,888.3 L659.7,875.3 L666.9,862.3 L674.2,849.3 L681.4,836.3 L688.6,823.3 L695.9,810.1 L703.1,796.9 L710.4,783.7 L717.6,770.3 L724.9,756.7 L732.1,743.1 L739.3,729.3 L746.6,715.3 L753.8,701.1 L761.1,686.8 L768.3,672.2 L775.6,657.4 L782.8,642.3 L790.0,627.0 L797.3,611.5 L804.5,595.9 L811.8,580.1 L819.0,564.1 L826.3,548.1 L833.5,532.1 L840.8,516.1 L848.0,500.0 L855.2,484.1 L862.5,468.2 L869.7,452.5 L877.0,437.0 L884.2,421.6 L891.5,406.5 L898.7,391.6 L905.9,377.1 L913.2,362.9 L920.4,349.0 L927.7,335.6 L934.9,322.6 L942.2,310.1 L949.4,298.1 L956.6,286.6 L963.9,275.7 L971.1,265.4 L978.4,255.8 L985.6,246.8 L992.9,238.5 L1000.1,230.8 L1007.3,223.8 L1014.6,217.4 L1021.8,211.6 L1029.1,206.5 L1036.3,202.0 L1043.6,198.1 L1050.8,194.8 L1058.0,192.0 L1065.3,189.9 L1072.5,188.4 L1079.8,187.4 L1087.0,187.0 L1094.3,187.2 L1101.5,187.9 L1108.7,189.2 L1116.0,191.0 L1123.2,193.4 L1130.5,196.4 L1137.7,200.0 L1145.0,204.3 L1152.2,209.3 L1159.4,215.0 L1166.7,221.5 L1173.9,228.8 L1181.2,236.9 L1188.4,245.8 L1195.7,255.6 L1202.9,266.3 L1210.1,278.0 L1217.4,290.7 L1224.6,304.3 L1231.9,319.0 L1239.1,334.6 L1246.4,351.0 L1253.6,368.3 L1260.8,386.2 L1268.1,404.9 L1275.3,424.2 L1282.6,444.0 L1289.8,464.3 L1297.1,485.0 L1304.3,506.1 L1311.5,527.5 L1318.8,549.1 L1326.0,570.9 L1333.3,592.8 L1340.5,614.8 L1347.8,636.7 L1355.0,658.5 L1362.2,680.1 L1369.5,701.3 L1376.7,722.2 L1384.0,742.6 L1391.2,762.3 L1398.5,781.3 L1405.7,799.6 L1412.9,817.3 L1420.2,834.3 L1427.4,850.7 L1434.7,866.5 L1441.9,881.8 L1449.2,896.4 L1456.4,910.6 L1463.6,924.2 L1470.9,937.3 L1478.1,949.9 L1485.4,962.0 L1492.6,973.6 L1499.9,984.8 L1507.1,995.6 L1514.3,1005.9 L1521.6,1015.8 L1528.8,1025.4 L1536.1,1034.5 L1543.3,1043.4 L1550.6,1051.8 L1557.8,1060.0 L1565.1,1067.8 L1572.3,1075.3 L1579.5,1082.6 L1586.8,1089.6 L1594.0,1096.3 L1601.3,1102.8 L1608.5,1109.1 L1615.8,1115.1 L1623.0,1121.0 L1630.2,1126.7 L1637.5,1132.2 L1644.7,1137.5 L1652.0,1142.6 L1659.2,1147.5 L1666.5,1152.3 L1673.7,1156.8 L1680.9,1161.2 L1688.2,1165.5 L1695.4,1169.5 L1702.7,1173.4 L1709.9,1177.1 L1717.2,1180.7 L1724.4,1184.1 L1731.6,1187.4 L1738.9,1190.5 L1746.1,1193.5 L1753.4,1196.3 L1760.6,1199.0 L1767.9,1201.6 L1775.1,1204.0 L1782.3,1206.3 L1789.6,1208.5 L1796.8,1210.6 L1804.1,1212.5 L1811.3,1214.3 L1818.6,1216.1 L1825.8,1217.7 L1833.0,1219.2 L1840.3,1220.6 L1847.5,1221.8 L1854.8,1223.0 L1862.0,1224.2 L1869.3,1225.2 L1876.5,1226.1 L1883.7,1227.0 L1891.0,1227.7 L1898.2,1228.4 L1905.5,1229.0 L1912.7,1229.6 L1920.0,1230.1 L1927.2,1230.5 L1934.4,1230.9 L1941.7,1231.2 L1948.9,1231.3 L1956.2,1231.3 L1963.4,1231.3 L1970.7,1231.3 L1977.9,1231.3 L1985.1,1231.3 L1992.4,1231.3 L1999.6,1231.3"/>
<path stroke="#ffff80" d="M333.7,1189.9 L341.0,1187.1 L348.2,1184.2 L355.5,1181.1 L362.7,1177.9 L370.0,1174.5 L377.2,1171.0 L384.4,1167.2 L391.7,1163.3 L398.9,1159.3 L406.2,1155.0 L413.4,1150.6 L420.7,1146.0 L427.9,1141.3 L435.1,1136.3 L442.4,1131.2 L449.6,1125.9 L456.9,1120.3 L464.1,1114.6 L471.4,1108.7 L478.6,1102.6 L485.8,1096.3 L493.1,1089.8 L500.3,1083.1 L507.6,1076.2 L514.8,1069.0 L522.1,1061.7 L529.3,1054.0 L536.5,1046.2 L543.8,1038.0 L551.0,1029.6 L558.3,1020.8 L565.5,1011.7 L572.8,1002.3 L580.0,992.5 L587.2,982.3 L594.5,971.8 L601.7,960.8 L609.0,949.5 L616.2,937.6 L623.5,925.4 L630.7,912.6 L637.9,899.5 L645.2,886.1 L652.4,872.6 L659.7,859.0 L666.9,845.4 L674.2,831.8 L681.4,818.1 L688.6,804.5 L695.9,790.7 L703.1,776.9 L710.4,763.0 L717.6,749.0 L724.9,734.9 L732.1,720.6 L739.3,706.2 L746.6,691.5 L753.8,676.7 L761.1,661.7 L768.3,646.4 L775.6,631.0 L782.8,615.2 L790.0,599.2 L797.3,583.0 L804.5,566.6 L811.8,550.1 L819.0,533.4 L826.3,516.7 L833.5,499.9 L840.8,483.1 L848.0,466.4 L855.2,449.7 L862.5,433.1 L869.7,416.7 L877.0,400.4 L884.2,384.3 L891.5,368.5 L898.7,353.0 L905.9,337.8 L913.2,322.9 L920.4,308.4 L927.7,294.4 L934.9,280.8 L942.2,267.7 L949.4,255.1 L956.6,243.1 L963.9,231.7 L971.1,221.0 L978.4,210.9 L985.6,201.5 L992.9,192.8 L1000.1,184.8 L1007.3,177.4 L1014.6,170.7 L1021.8,164.7 L1029.1,159.3 L1036.3,154.6 L1043.6,150.5 L1050.8,147.0 L1058.0,144.2 L1065.3,142.0 L1072.5,140.4 L1079.8,139.4 L1087.0,138.9 L1094.3,139.1 L1101.5,139.9 L1108.7,141.2 L1116.0,143.1 L1123.2,145.6 L1130.5,148.8 L1137.7,152.6 L1145.0,157.1 L1152.2,162.3 L1159.4,168.2 L1166.7,175.0 L1173.9,182.6 L1181.2,191.1 L1188.4,200.4 L1195.7,210.7 L1202.9,221.9 L1210.1,234.1 L1217.4,247.4 L1224.6,261.7 L1231.9,277.0 L1239.1,293.3 L1246.4,310.5 L1253.6,328.5 L1260.8,347.3 L1268.1,366.8 L1275.3,387.0 L1282.6,407.7 L1289.8,429.0 L1297.1,450.7 L1304.3,472.7 L1311.5,495.1 L1318.8,517.7 L1326.0,540.5 L1333.3,563.4 L1340.5,586.4 L1347.8,609.3 L1355.0,632.1 L1362.2,654.7 L1369.5,676.9 L1376.7,698.8 L1384.0,720.0 L1391.2,740.7 L1398.5,760.6 L1405.7,779.8 L1412.9,798.2 L1420.2,816.0 L1427.4,833.2 L1434.7,849.7 L1441.9,865.7 L1449.2,881.0 L1456.4,895.8 L1463.6,910.0 L1470.9,923.7 L1478.1,936.9 L1485.4,949.6 L1492.6,961.8 L1499.9,973.5 L1507.1,984.7 L1514.3,995.5 L1521.6,1005.9 L1528.8,1015.9 L1536.1,1025.5 L1543.3,1034.7 L1550.6,1043.6 L1557.8,1052.1 L1565.1,1060.3 L1572.3,1068.1 L1579.5,1075.7 L1586.8,1083.0 L1594.0,1090.1 L1601.3,1096.9 L1608.5,1103.4 L1615.8,1109.8 L1623.0,1115.9 L1630.2,1121.9 L1637.5,1127.6 L1644.7,1133.2 L1652.0,1138.5 L1659.2,1143.7 L1666.5,1148.6 L1673.7,1153.4 L1680.9,1158.0 L1688.2,1162.4 L1695.4,1166.7 L1702.7,1170.7 L1709.9,1174.6 L1717.2,1178.4 L1724.4,1182.0 L1731.6,1185.4 L1738.9,1188.7 L1746.1,1191.8 L1753.4,1194.7 L1760.6,1197.6 L1767.9,1200.2 L1775.1,1202.8 L1782.3,1205.2 L1789.6,1207.5 L1796.8,1209.6 L1804.1,1211.7 L1811.3,1213.6 L1818.6,1215.4 L1825.8,1217.0 L1833.0,1218.6 L1840.3,1220.1 L1847.5,1221.4 L1854.8,1222.7 L1862.0,1223.8 L1869.3,1224.9 L1876.5,1225.9 L1883.7,1226.8 L1891.0,1227.6 L1898.2,1228.3 L1905.5,1228.9 L1912.7,1229.5 L1920.0,1230.0 L1927.2,1230.5 L1934.4,1230.8 L1941.7,1231.2 L1948.9,1231.3 L1956.2,1231.3 L1963.4,1231.3 L1970.7,1231.3 L1977.9,1231.3 L1985.1,1231.3 L1992.4,1231.3 L1999.6,1231.3"/>
<path stroke="#80ffff" d="M333.7,1189.5 L341.0,1186.8 L348.2,1183.8 L355.5,1180.7 L362.7,1177.4 L370.0,1174.0 L377.2,1170.4 L384.4,1166.7 L391.7,1162.7 L398.9,1158.7 L406.2,1154.4 L413.4,1149.9 L420.7,1145.3 L427.9,1140.5 L435.1,1135.5 L442.4,1130.3 L449.6,1124.9 L456.9,1119.4 L464.1,1113.6 L471.4,1107.7 L478.6,1101.5 L485.8,1095.1 L493.1,1088.6 L500.3,1081.8 L507.6,1074.8 L514.8,1067.6 L522.1,1060.2 L529.3,1052.5 L536.5,1044.6 L543.8,1036.3 L551.0,1027.8 L558.3,1019.0 L565.5,1009.8 L572.8,1000.3 L580.0,990.4 L587.2,980.2 L594.5,969.5 L601.7,958.5 L609.0,947.0 L616.2,935.1 L623.5,922.7 L630.7,909.9 L637.9,896.6 L645.2,883.1 L652.4,869.4 L659.7,855.7 L666.9,842.0 L674.2,828.3 L681.4,814.5 L688.6,800.7 L695.9,786.9 L703.1,773.0 L710.4,759.0 L717.6,744.8 L724.9,730.6 L732.1,716.2 L739.3,701.6 L746.6,686.8 L753.8,671.9 L761.1,656.7 L768.3,641.4 L775.6,625.7 L782.8,609.8 L790.0,593.7 L797.3,577.4 L804.5,560.8 L811.8,544.1 L819.0,527.3 L826.3,510.5 L833.5,493.5 L840.8,476.6 L848.0,459.7 L855.2,442.9 L862.5,426.2 L869.7,409.6 L877.0,393.2 L884.2,377.0 L891.5,361.0 L898.7,345.3 L905.9,330.0 L913.2,315.0 L920.4,300.4 L927.7,286.2 L934.9,272.5 L942.2,259.3 L949.4,246.6 L956.6,234.5 L963.9,223.0 L971.1,212.2 L978.4,202.0 L985.6,192.5 L992.9,183.7 L1000.1,175.6 L1007.3,168.2 L1014.6,161.5 L1021.8,155.4 L1029.1,150.0 L1036.3,145.2 L1043.6,141.1 L1050.8,137.6 L1058.0,134.7 L1065.3,132.5 L1072.5,130.9 L1079.8,129.8 L1087.0,129.4 L1094.3,129.6 L1101.5,130.4 L1108.7,131.7 L1116.0,133.6 L1123.2,136.2 L1130.5,139.3 L1137.7,143.2 L1145.0,147.7 L1152.2,153.0 L1159.4,159.0 L1166.7,165.8 L1173.9,173.5 L1181.2,182.0 L1188.4,191.4 L1195.7,201.8 L1202.9,213.1 L1210.1,225.4 L1217.4,238.8 L1224.6,253.2 L1231.9,268.7 L1239.1,285.1 L1246.4,302.5 L1253.6,320.6 L1260.8,339.6 L1268.1,359.3 L1275.3,379.7 L1282.6,400.6 L1289.8,422.0 L1297.1,443.9 L1304.3,466.1 L1311.5,488.7 L1318.8,511.5 L1326.0,534.5 L1333.3,557.6 L1340.5,580.8 L1347.8,603.9 L1355.0,626.9 L1362.2,649.7 L1369.5,672.1 L1376.7,694.1 L1384.0,715.6 L1391.2,736.4 L1398.5,756.5 L1405.7,775.8 L1412.9,794.5 L1420.2,812.4 L1427.4,829.7 L1434.7,846.4 L1441.9,862.5 L1449.2,878.0 L1456.4,892.9 L1463.6,907.2 L1470.9,921.1 L1478.1,934.3 L1485.4,947.1 L1492.6,959.4 L1499.9,971.2 L1507.1,982.6 L1514.3,993.5 L1521.6,1004.0 L1528.8,1014.0 L1536.1,1023.7 L1543.3,1033.0 L1550.6,1041.9 L1557.8,1050.5 L1565.1,1058.8 L1572.3,1066.7 L1579.5,1074.4 L1586.8,1081.7 L1594.0,1088.8 L1601.3,1095.7 L1608.5,1102.3 L1615.8,1108.7 L1623.0,1114.9 L1630.2,1120.9 L1637.5,1126.7 L1644.7,1132.3 L1652.0,1137.7 L1659.2,1142.9 L1666.5,1147.9 L1673.7,1152.7 L1680.9,1157.4 L1688.2,1161.8 L1695.4,1166.1 L1702.7,1170.2 L1709.9,1174.2 L1717.2,1177.9 L1724.4,1181.5 L1731.6,1185.0 L1738.9,1188.3 L1746.1,1191.4 L1753.4,1194.4 L1760.6,1197.3 L1767.9,1200.0 L1775.1,1202.5 L1782.3,1205.0 L1789.6,1207.3 L1796.8,1209.4 L1804.1,1211.5 L1811.3,1213.4 L1818.6,1215.2 L1825.8,1216.9 L1833.0,1218.5 L1840.3,1220.0 L1847.5,1221.3 L1854.8,1222.6 L1862.0,1223.8 L1869.3,1224.8 L1876.5,1225.8 L1883.7,1226.7 L1891.0,1227.5 L1898.2,1228.3 L1905.5,1228.9 L1912.7,1229.5 L1920.0,1230.0 L1927.2,1230.5 L1934.4,1230.8 L1941.7,1231.2 L1948.9,1231.3 L1956.2,1231.3 L1963.4,1231.3 L1970.7,1231.3 L1977.9,1231.3 L1985.1,1231.3 L1992.4,1231.3 L1999.6,1231.3"/>
<path stroke="#ff80ff" d="M333.7,1189.9 L341.0,1187.1 L348.2,1184.2 L355.5,1181.1 L362.7,1177.9 L370.0,1174.5 L377.2,1171.0 L384.4,1167.2 L391.7,1163.3 L398.9,1159.3 L406.2,1155.0 L413.4,1150.6 L420.7,1146.0 L427.9,1141.3 L435.1,1136.3 L442.4,1131.2 L449.6,1125.9 L456.9,1120.3 L464.1,1114.6 L471.4,1108.7 L478.6,1102.6 L485.8,1096.3 L493.1,1089.8 L500.3,1083.1 L507.6,1076.2 L514.8,1069.0 L522.1,1061.7 L529.3,1054.0 L536.5,1046.2 L543.8,1038.0 L551.0,1029.6 L558.3,1020.8 L565.5,1011.7 L572.8,1002.3 L580.0,992.5 L587.2,982.3 L594.5,971.8 L601.7,960.8 L609.0,949.5 L616.2,937.6 L623.5,925.4 L630.7,912.6 L637.9,899.5 L645.2,886.1 L652.4,872.6 L659.7,859.0 L666.9,845.4 L674.2,831.8 L681.4,818.1 L688.6,804.5 L695.9,790.7 L703.1,776.9 L710.4,763.0 L717.6,749.0 L724.9,734.9 L732.1,720.6 L739.3,706.2 L746.6,691.5 L753.8,676.7 L761.1,661.7 L768.3,646.4 L775.6,631.0 L782.8,615.2 L790.0,599.2 L797.3,583.0 L804.5,566.6 L811.8,550.1 L819.0,533.4 L826.3,516.7 L833.5,499.9 L840.8,483.1 L848.0,466.4 L855.2,449.7 L862.5,433.1 L869.7,416.7 L877.0,400.4 L884.2,384.3 L891.5,368.5 L898.7,353.0 L905.9,337.8 L913.2,322.9 L920.4,308.4 L927.7,294.4 L934.9,280.8 L942.2,267.7 L949.4,255.1 L956.6,243.1 L963.9,231.7 L971.1,221.0 L978.4,210.9 L985.6,201.5 L992.9,192.8 L1000.1,184.8 L1007.3,177.4 L1014.6,170.7 L1021.8,164.7 L1029.1,159.3 L1036.3,154.6 L1043.6,150.5 L1050.8,147.0 L1058.0,144.2 L1065.3,142.0 L1072.5,140.4 L1079.8,139.4 L1087.0,138.9 L1094.3,139.1 L1101.5,139.9 L1108.7,141.2 L1116.0,143.1 L1123.2,145.6 L1130.5,148.8 L1137.7,152.6 L1145.0,157.1 L1152.2,162.3 L1159.4,168.2 L1166.7,175.0 L1173.9,182.6 L1181.2,191.1 L1188.4,200.4 L1195.7,210.7 L1202.9,221.9 L1210.1,234.1 L1217.4,247.4 L1224.6,261.7 L1231.9,277.0 L1239.1,293.3 L1246.4,310.5 L1253.6,328.5 L1260.8,347.3 L1268.1,366.8 L1275.3,387.0 L1282.6,407.7 L1289.8,429.0 L1297.1,450.7 L1304.3,472.7 L1311.5,495.1 L1318.8,517.7 L1326.0,540.5 L1333.3,563.4 L1340.5,586.4 L1347.8,609.3 L1355.0,632.1 L1362.2,654.7 L1369.5,676.9 L1376.7,698.8 L1384.0,720.0 L1391.2,740.7 L1398.5,760.6 L1405.7,779.8 L1412.9,798.2 L1420.2,816.0 L1427.4,833.2 L1434.7,849.7 L1441.9,865.7 L1449.2,881.0 L1456.4,895.8 L1463.6,910.0 L1470.9,923.7 L1478.1,936.9 L1485.4,949.6 L1492.6,961.8 L1499.9,973.5 L1507.1,984.7 L1514.3,995.5 L1521.6,1005.9 L1528.8,1015.9 L1536.1,1025.5 L1543.3,1034.7 L1550.6,1043.6 L1557.8,1052.1 L1565.1,1060.3 L1572.3,1068.1 L1579.5,1075.7 L1586.8,1083.0 L1594.0,1090.1 L1601.3,1096.9 L1608.5,1103.4 L1615.8,1109.8 L1623.0,1115.9 L1630.2,1121.9 L1637.5,1127.6 L1644.7,1133.2 L1652.0,1138.5 L1659.2,1143.7 L1666.5,1148.6 L1673.7,1153.4 L1680.9,1158.0 L1688.2,1162.4 L1695.4,1166.7 L1702.7,1170.7 L1709.9,1174.6 L1717.2,1178.4 L1724.4,1182.0 L1731.6,1185.4 L1738.9,1188.7 L1746.1,1191.8 L1753.4,1194.7 L1760.6,1197.6 L1767.9,1200.2 L1775.1,1202.8 L1782.3,1205.2 L1789.6,1207.5 L1796.8,1209.6 L1804.1,1211.7 L1811.3,1213.6 L1818.6,1215.4 L1825.8,1217.0 L1833.0,1218.6 L1840.3,1220.1 L1847.5,1221.4 L1854.8,1222.7 L1862.0,1223.8 L1869.3,1224.9 L1876.5,1225.9 L1883.7,1226.8 L1891.0,1227.6 L1898.2,1228.3 L1905.5,1228.9 L1912.7,1229.5 L1920.0,1230.0 L1927.2,1230.5 L1934.4,1230.8 L1941.7,1231.2 L1948.9,1231.3 L1956.2,1231.3 L1963.4,1231.3 L1970.7,1231.3 L1977.9,1231.3 L1985.1,1231.3 L1992.4,1231.3 L1999.6,1231.3"/>
<path stroke="#404040" d="M333.7,1189.3 L341.0,1186.5 L348.2,1183.5 L355.5,1180.4 L362.7,1177.1 L370.0,1173.7 L377.2,1170.0 L384.4,1166.3 L391.7,1162.3 L398.9,1158.2 L406.2,1153.9 L413.4,1149.4 L420.7,1144.8 L427.9,1139.9 L435.1,1134.9 L442.4,1129.7 L449.6,1124.3 L456.9,1118.7 L464.1,1112.9 L471.4,1106.9 L478.6,1100.7 L485.8,1094.3 L493.1,1087.7 L500.3,1080.8 L507.6,1073.8 L514.8,1066.6 L522.1,1059.1 L529.3,1051.4 L536.5,1043.4 L543.8,1035.1 L551.0,1026.5 L558.3,1017.6 L565.5,1008.4 L572.8,998.8 L580.0,988.9 L587.2,978.6 L594.5,967.9 L601.7,956.7 L609.0,945.2 L616.2,933.2 L623.5,920.7 L630.7,907.8 L637.9,894.5 L645.2,880.9 L652.4,867.1 L659.7,853.3 L666.9,839.5 L674.2,825.7 L681.4,811.9 L688.6,798.0 L695.9,784.1 L703.1,770.1 L710.4,756.0 L717.6,741.7 L724.9,727.4 L732.1,712.9 L739.3,698.2 L746.6,683.4 L753.8,668.3 L761.1,653.1 L768.3,637.6 L775.6,621.9 L782.8,605.9 L790.0,589.7 L797.3,573.2 L804.5,556.6 L811.8,539.8 L819.0,522.9 L826.3,505.9 L833.5,488.8 L840.8,471.8 L848.0,454.8 L855.2,437.9 L862.5,421.0 L869.7,404.3 L877.0,387.8 L884.2,371.5 L891.5,355.5 L898.7,339.7 L905.9,324.2 L913.2,309.2 L920.4,294.5 L927.7,280.2 L934.9,266.4 L942.2,253.1 L949.4,240.3 L956.6,228.2 L963.9,216.6 L971.1,205.7 L978.4,195.4 L985.6,185.9 L992.9,177.1 L1000.1,168.9 L1007.3,161.5 L1014.6,154.7 L1021.8,148.5 L1029.1,143.1 L1036.3,138.3 L1043.6,134.1 L1050.8,130.6 L1058.0,127.7 L1065.3,125.5 L1072.5,123.9 L1079.8,122.8 L1087.0,122.4 L1094.3,122.6 L1101.5,123.4 L1108.7,124.7 L1116.0,126.7 L1123.2,129.2 L1130.5,132.4 L1137.7,136.2 L1145.0,140.8 L1152.2,146.1 L1159.4,152.2 L1166.7,159.0 L1173.9,166.7 L1181.2,175.3 L1188.4,184.8 L1195.7,195.2 L1202.9,206.6 L1210.1,219.0 L1217.4,232.5 L1224.6,247.0 L1231.9,262.5 L1239.1,279.1 L1246.4,296.5 L1253.6,314.9 L1260.8,334.0 L1268.1,353.8 L1275.3,374.2 L1282.6,395.3 L1289.8,416.8 L1297.1,438.9 L1304.3,461.3 L1311.5,484.0 L1318.8,506.9 L1326.0,530.1 L1333.3,553.3 L1340.5,576.6 L1347.8,599.9 L1355.0,623.0 L1362.2,646.0 L1369.5,668.6 L1376.7,690.7 L1384.0,712.3 L1391.2,733.3 L1398.5,753.5 L1405.7,772.9 L1412.9,791.7 L1420.2,809.7 L1427.4,827.2 L1434.7,844.0 L1441.9,860.1 L1449.2,875.7 L1456.4,890.7 L1463.6,905.2 L1470.9,919.1 L1478.1,932.5 L1485.4,945.3 L1492.6,957.7 L1499.9,969.6 L1507.1,981.0 L1514.3,992.0 L1521.6,1002.5 L1528.8,1012.6 L1536.1,1022.4 L1543.3,1031.7 L1550.6,1040.7 L1557.8,1049.4 L1565.1,1057.7 L1572.3,1065.7 L1579.5,1073.4 L1586.8,1080.8 L1594.0,1087.9 L1601.3,1094.8 L1608.5,1101.5 L1615.8,1108.0 L1623.0,1114.2 L1630.2,1120.2 L1637.5,1126.1 L1644.7,1131.7 L1652.0,1137.1 L1659.2,1142.3 L1666.5,1147.4 L1673.7,1152.2 L1680.9,1156.9 L1688.2,1161.4 L1695.4,1165.7 L1702.7,1169.8 L1709.9,1173.8 L1717.2,1177.6 L1724.4,1181.2 L1731.6,1184.7 L1738.9,1188.0 L1746.1,1191.2 L1753.4,1194.2 L1760.6,1197.0 L1767.9,1199.8 L1775.1,1202.4 L1782.3,1204.8 L1789.6,1207.1 L1796.8,1209.3 L1804.1,1211.4 L1811.3,1213.3 L1818.6,1215.1 L1825.8,1216.8 L1833.0,1218.4 L1840.3,1219.9 L1847.5,1221.3 L1854.8,1222.5 L1862.0,1223.7 L1869.3,1224.8 L1876.5,1225.8 L1883.7,1226.7 L1891.0,1227.5 L1898.2,1228.2 L1905.5,1228.9 L1912.7,1229.5 L1920.0,1230.0 L1927.2,1230.5 L1934.4,1230.8 L1941.7,1231.2 L1948.9,1231.3 L1956.2,1231.3 L1963.4,1231.3 L1970.7,1231.3 L1977.9,1231.3 L1985.1,1231.3 L1992.4,1231.3 L1999.6,1231.3"/>
</g>
<text x="291.5" y="1259.9" font-size="100" text-anchor="end">0</text>
<text x="291.5" y="1009.5" font-size="100" text-anchor="end">50</text>
<text x="291.5" y="759.1" font-size="100" text-anchor="end">100</text>
<text x="291.5" y="508.6" font-size="100" text-anchor="end">150</text>
<text x="291.5" y="258.2" font-size="100" text-anchor="end">200</text>
<text x="478.6" y="1377" font-size="100" text-anchor="middle">450</text>
<text x="840.8" y="1377" font-size="100" text-anchor="middle">500</text>
<text x="1202.9" y="1377" font-size="100" text-anchor="middle">550</text>
<text x="1565.1" y="1377" font-size="100" text-anchor="middle">600</text>
<text x="1927.2" y="1377" font-size="100" text-anchor="middle">650</text>
<text x="829.5" y="1491.5" font-size="100">Wavelength/nm</text>
<text transform="translate(87,1135) rotate(-90)" x="0" y="0" font-size="100">Fluorescence intensity</text>
<text x="1475.4" y="441" font-size="88">100.0</text>
<text transform="translate(1694.4,441) scale(1,0.88)" font-size="88" font-weight="normal" style="font-weight:normal">μ</text>
<text x="1740.5" y="441" font-size="88">M</text>
<text x="1657.1" y="581" font-size="88">GSH</text>
<text x="1554.4" y="702.5" font-size="88">0.0</text>
<line x1="1611.5" y1="605" x2="1611.5" y2="512" stroke="#000" stroke-width="10.5" stroke-linecap="round"/>
<polygon points="1611.8,478 1598,519 1625.5,519" fill="#000"/>
<defs>
<filter id="soft" x="-5%" y="-5%" width="110%" height="110%"><feGaussianBlur stdDeviation="1.4"/></filter>
<filter id="soft2" x="-20%" y="-20%" width="140%" height="140%"><feGaussianBlur stdDeviation="0.7"/></filter>
<linearGradient id="lcap" x1="0" y1="0" x2="1" y2="0">
<stop offset="0" stop-color="#88b8e0"/><stop offset="0.3" stop-color="#8cc4cc"/><stop offset="0.65" stop-color="#6cc0b4"/><stop offset="0.85" stop-color="#40d080"/><stop offset="1" stop-color="#60d098"/>
</linearGradient>
<linearGradient id="lcup" x1="0" y1="0" x2="1" y2="0">
<stop offset="0" stop-color="#b0d4cc"/><stop offset="0.45" stop-color="#70b8b4"/><stop offset="0.8" stop-color="#38c878"/><stop offset="1" stop-color="#48ec68"/>
</linearGradient>
<linearGradient id="lbot" x1="0" y1="0" x2="0" y2="1">
<stop offset="0" stop-color="#6880c8"/><stop offset="0.45" stop-color="#8490e0"/><stop offset="1" stop-color="#74a4dc"/>
</linearGradient>
<linearGradient id="gbody" x1="0" y1="0" x2="0" y2="1">
<stop offset="0" stop-color="#20f818"/><stop offset="0.3" stop-color="#08ec08"/><stop offset="1" stop-color="#00d800"/>
</linearGradient>
<linearGradient id="nbody" x1="0" y1="0" x2="0" y2="1">
<stop offset="0" stop-color="#0c1c4c"/><stop offset="0.6" stop-color="#0a1848"/><stop offset="1" stop-color="#1a2c68"/>
</linearGradient>
</defs>
<g>
<rect x="407" y="181" width="295" height="526" fill="#04101c"/>
<g filter="url(#soft)">
<!-- left cuvette cap -->
<rect x="413" y="186" width="140" height="127" fill="url(#lcap)"/>
<rect x="413" y="186" width="140" height="7" fill="#a8d4dc"/>
<ellipse cx="486" cy="213" rx="50" ry="15" fill="#54a2a2"/>
<rect x="436" y="229" width="100" height="7" fill="#80c8c8"/>
<path d="M440 236 L536 236 L532 290 Q486 312 442 290 Z" fill="url(#lcup)"/>
<rect x="418" y="239" width="11" height="38" fill="#0c5a3c"/>
<rect x="537" y="239" width="12" height="39" fill="#0c6a34"/>
<ellipse cx="484" cy="284" rx="17" ry="6" fill="#4060b0"/>
<rect x="413" y="306" width="140" height="7" fill="#88b4d0"/>
<!-- left body -->
<rect x="413" y="313" width="24" height="330" fill="#4c9a7c"/>
<rect x="416" y="313" width="5" height="330" fill="#1c3c30"/>
<rect x="426" y="313" width="6" height="330" fill="#88c0a8"/>
<rect x="437" y="315" width="100" height="325" fill="url(#nbody)"/>
<rect x="536" y="313" width="17" height="330" fill="#6a9484"/>
<rect x="540" y="313" width="4" height="330" fill="#9ab8a8"/>
<rect x="419" y="640" width="134" height="58" fill="url(#lbot)"/>
<!-- right cuvette cap -->
<rect x="553" y="187" width="146" height="126" fill="#2cf058"/>
<rect x="553" y="187" width="146" height="5" fill="#60e880"/>
<ellipse cx="628.7" cy="212" rx="55" ry="18" fill="#06923a"/>
<rect x="570" y="230" width="118" height="10" fill="#66ff74"/>
<rect x="562" y="241" width="11" height="37" fill="#00801e"/>
<rect x="681" y="243" width="16" height="36" fill="#007a30"/>
<rect x="604" y="242" width="49" height="17" fill="#00b800"/>
<rect x="582" y="262" width="11" height="28" fill="#00b000"/>
<rect x="660" y="262" width="11" height="28" fill="#00b000"/>
<ellipse cx="627" cy="276" rx="19" ry="13" fill="#00b400"/>
<ellipse cx="629" cy="299" rx="33" ry="8" fill="#d0ff78"/>
<!-- right body -->
<rect x="553" y="313" width="146" height="344" fill="url(#gbody)"/>
<rect x="553" y="313" width="9" height="344" fill="#30f060"/>
<rect x="562" y="316" width="9" height="339" fill="#046c12"/>
<rect x="685" y="316" width="10" height="339" fill="#046212"/>
<rect x="695" y="313" width="4" height="344" fill="#70d878"/>
<rect x="556" y="655" width="140" height="43" fill="#1cf830"/>
<rect x="556" y="697" width="142" height="8" fill="#006a20"/>
</g>
<rect x="552" y="186" width="1.2" height="514" fill="#305848" opacity="0.5"/>
<rect x="409.5" y="183.5" width="290" height="521" fill="none" stroke="#04101c" stroke-width="5" filter="url(#soft2)"/>
</g>
<!-- GSH label and curved arrow -->
<text x="498.7" y="71.5" font-size="64.5">GSH</text>
<path d="M487 172 A86 86 0 0 1 655.9 149 L669.5 149 L647.5 171 L619 149 L630.6 149 A62 62 0 0 0 511 172 Z" fill="#d00c8c"/>

</svg></body></html>
